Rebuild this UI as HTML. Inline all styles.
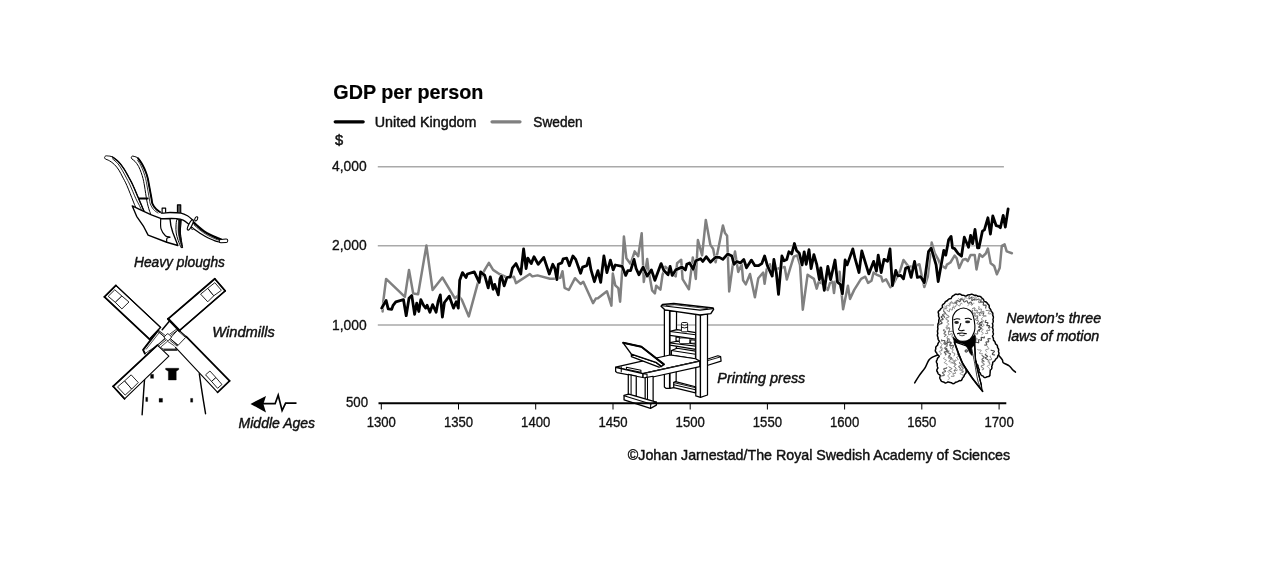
<!DOCTYPE html>
<html><head><meta charset="utf-8"><title>GDP per person</title>
<style>
html,body{margin:0;padding:0;background:#fff;}
body{width:1280px;height:576px;overflow:hidden;font-family:"Liberation Sans",sans-serif;}
svg{display:block;font-family:"Liberation Sans",sans-serif;will-change:transform;opacity:0.999;}
</style></head><body>
<svg width="1280" height="576" viewBox="0 0 1280 576">
<rect width="1280" height="576" fill="#fff"/>
<g stroke="#a9a9a9" stroke-width="1.6" fill="none">
<line x1="377.8" y1="166.7" x2="1003.9" y2="166.7"/>
<line x1="377.8" y1="245.8" x2="1003.9" y2="245.8"/>
<line x1="377.8" y1="325" x2="934" y2="325"/>
</g>
<polyline points="382.6,311.5 383.3,301.1 386.1,278.9 404.9,296.9 409.0,269.9 413.2,293.5 418.1,294.2 426.4,245.6 432.6,290.0 442.4,277.5 454.9,298.3 458.3,295.6 461.8,299.7 468.8,316.4 477.8,283.1 484.7,269.9 488.9,262.9 493.1,269.9 499.3,274.0 506.9,277.5 513.9,276.8 516.0,283.1 529.9,274.0 531.9,276.1 532.6,276.4 537.5,275.4 550.0,278.8 553.5,278.8 560.4,277.8 562.5,271.2 564.6,287.8 568.8,290.0 575.0,278.2 580.6,284.0 583.3,281.7 593.1,303.2 595.8,298.6 597.9,298.3 606.9,291.2 611.4,305.6 612.8,273.6 615.3,285.4 618.3,288.2 620.1,301.7 622.2,270.6 623.9,236.5 626.4,258.3 630.6,263.9 634.7,251.4 638.2,256.2 641.7,233.3 643.8,281.9 647.2,259.0 648.6,270.8 652.1,290.3 654.9,293.3 656.2,285.8 660.4,289.6 662.5,275.0 665.3,266.7 675.7,276.4 677.1,263.2 681.2,259.7 682.6,279.2 688.9,289.3 692.8,257.4 695.8,278.9 697.9,240.0 702.1,255.3 705.8,219.9 710.4,244.9 713.2,249.0 715.6,262.2 722.9,225.4 725.0,233.1 727.1,235.8 729.2,291.4 732.6,266.4 735.0,251.4 738.2,271.9 741.7,264.3 743.1,280.3 745.8,284.4 750.0,274.0 754.9,297.2 758.3,278.2 763.2,272.6 764.6,283.8 766.7,269.2 770.1,264.3 772.2,270.6 780.6,267.8 784.7,267.1 786.8,279.6 790.3,267.8 793.8,256.7 797.2,255.3 800.0,265.0 802.8,309.7 807.6,274.7 813.9,278.9 816.7,288.6 818.8,281.7 823.6,284.4 827.8,290.0 829.9,283.1 832.6,281.7 834.0,293.1 835.4,281.5 838.9,282.2 839.6,271.8 843.1,309.3 847.9,285.7 850.0,298.9 854.2,289.9 861.1,278.8 865.3,276.7 868.1,282.9 871.5,280.8 873.6,272.5 876.4,274.6 881.2,276.7 882.6,281.5 886.1,279.4 890.3,287.1 892.4,285.7 900.0,271.1 903.5,260.0 908.3,266.2 913.9,266.9 919.4,264.2 921.5,274.6 924.3,287.1 927.8,276.7 931.7,242.6 934.7,253.1 938.2,259.3 940.3,264.9 945.6,268.1 946.9,264.6 950.4,262.5 954.6,255.6 956.7,258.3 959.2,268.1 962.9,259.7 965.7,259.0 967.8,261.1 970.6,254.9 974.7,254.9 976.5,269.4 979.6,254.2 982.4,256.9 985.8,253.5 987.9,248.6 990.7,263.2 994.2,266.0 996.9,274.3 999.7,268.1 1001.8,245.8 1004.6,244.4 1006.7,251.4 1011.9,253.2" fill="none" stroke="#808080" stroke-width="2.5" stroke-linejoin="round" stroke-linecap="round"/>
<polyline points="381.7,308.1 383.3,305.3 386.1,300.4 388.2,308.8 391.7,309.4 393.1,305.3 395.8,301.8 403.5,299.7 406.2,315.7 409.0,298.3 411.8,295.6 414.6,314.3 416.7,303.2 418.8,311.5 420.8,299.7 423.6,305.3 425.7,308.1 427.1,305.3 429.9,312.2 432.6,304.6 436.1,312.2 438.2,301.1 440.3,294.9 442.4,317.1 444.4,302.5 449.3,296.2 453.5,308.1 456.2,301.8 458.3,308.1 459.7,280.3 462.5,272.6 466.0,277.5 467.4,274.0 474.3,271.9 479.2,282.4 480.6,271.9 484.7,275.4 488.2,287.9 490.3,276.8 493.1,289.3 494.7,284.4 498.3,294.9 500.0,278.9 501.4,276.1 504.2,285.8 506.9,277.5 510.4,276.8 512.5,267.8 516.0,263.6 520.8,274.0 523.6,249.0 526.1,268.5 527.8,258.1 531.2,263.6 534.0,256.7 538.2,264.3 543.8,257.4 549.3,274.0 552.8,264.3 554.9,268.5 556.9,279.6 558.3,264.3 561.8,262.9 563.2,258.8 566.7,258.1 569.4,265.7 572.9,256.0 575.7,259.4 580.6,273.3 582.6,267.1 586.8,265.7 588.9,258.1 591.0,269.9 594.4,281.7 597.9,270.6 600.7,282.4 603.9,256.0 606.9,272.6 610.4,260.1 613.2,269.9 615.3,265.0 622.2,266.4 625.7,275.4 627.8,270.6 630.6,270.6 634.0,259.4 636.1,268.5 638.9,274.7 643.1,267.1 647.2,276.1 651.4,269.9 654.9,280.3 661.1,263.6 663.9,270.6 668.1,274.7 670.1,266.4 672.2,275.4 675.7,269.9 681.9,267.1 685.4,269.9 686.8,264.3 689.6,262.9 693.1,269.2 695.8,260.8 700.7,258.8 702.8,261.5 706.2,256.7 710.4,262.2 715.3,257.4 719.4,257.4 722.9,259.4 727.8,253.9 731.9,256.0 734.0,264.3 736.8,261.5 740.3,262.9 743.8,259.4 746.5,267.8 751.4,260.1 754.9,265.7 758.3,265.7 761.8,263.6 764.6,256.0 767.4,265.7 772.2,276.1 773.9,259.4 776.4,273.3 778.5,294.4 781.9,256.0 784.0,260.8 786.8,259.4 788.9,251.8 791.7,253.9 794.4,243.5 796.5,250.4 799.3,253.2 802.1,265.0 804.2,251.8 806.2,264.3 809.0,249.7 811.1,268.5 813.9,254.6 816.7,264.3 819.4,279.6 820.8,267.8 824.3,290.3 827.8,266.4 830.6,279.6 835.0,260.0 837.5,282.2 840.3,284.3 842.4,294.0 845.1,260.0 847.2,264.9 852.8,248.9 854.9,257.9 859.0,272.5 861.8,251.0 868.8,273.9 873.6,261.4 876.4,271.1 878.2,255.1 881.2,272.5 884.0,259.3 887.5,261.4 890.0,248.9 892.4,285.7 895.8,270.4 897.9,276.0 900.7,275.3 903.5,278.8 905.6,268.3 908.3,266.9 911.1,277.4 914.6,261.4 917.4,277.4 920.8,276.7 924.3,282.9 928.5,251.7 931.2,248.2 936.1,264.9 938.2,281.5 943.8,250.3 945.8,255.1 948.6,239.9 951.1,236.4 952.5,247.9 954.6,248.6 958.1,253.5 961.5,256.2 964.3,237.2 968.5,247.2 970.6,235.4 972.6,243.8 975.0,229.4 977.5,247.9 978.9,247.9 982.4,231.2 984.4,229.9 987.9,217.8 990.4,234.0 992.8,216.0 996.2,225.7 999.0,226.4 1000.4,227.8 1003.2,215.3 1005.3,227.1 1008.1,209.0" fill="none" stroke="#fff" stroke-width="3.6" stroke-linejoin="round" stroke-linecap="round" opacity="0.85"/>
<polyline points="381.7,308.1 383.3,305.3 386.1,300.4 388.2,308.8 391.7,309.4 393.1,305.3 395.8,301.8 403.5,299.7 406.2,315.7 409.0,298.3 411.8,295.6 414.6,314.3 416.7,303.2 418.8,311.5 420.8,299.7 423.6,305.3 425.7,308.1 427.1,305.3 429.9,312.2 432.6,304.6 436.1,312.2 438.2,301.1 440.3,294.9 442.4,317.1 444.4,302.5 449.3,296.2 453.5,308.1 456.2,301.8 458.3,308.1 459.7,280.3 462.5,272.6 466.0,277.5 467.4,274.0 474.3,271.9 479.2,282.4 480.6,271.9 484.7,275.4 488.2,287.9 490.3,276.8 493.1,289.3 494.7,284.4 498.3,294.9 500.0,278.9 501.4,276.1 504.2,285.8 506.9,277.5 510.4,276.8 512.5,267.8 516.0,263.6 520.8,274.0 523.6,249.0 526.1,268.5 527.8,258.1 531.2,263.6 534.0,256.7 538.2,264.3 543.8,257.4 549.3,274.0 552.8,264.3 554.9,268.5 556.9,279.6 558.3,264.3 561.8,262.9 563.2,258.8 566.7,258.1 569.4,265.7 572.9,256.0 575.7,259.4 580.6,273.3 582.6,267.1 586.8,265.7 588.9,258.1 591.0,269.9 594.4,281.7 597.9,270.6 600.7,282.4 603.9,256.0 606.9,272.6 610.4,260.1 613.2,269.9 615.3,265.0 622.2,266.4 625.7,275.4 627.8,270.6 630.6,270.6 634.0,259.4 636.1,268.5 638.9,274.7 643.1,267.1 647.2,276.1 651.4,269.9 654.9,280.3 661.1,263.6 663.9,270.6 668.1,274.7 670.1,266.4 672.2,275.4 675.7,269.9 681.9,267.1 685.4,269.9 686.8,264.3 689.6,262.9 693.1,269.2 695.8,260.8 700.7,258.8 702.8,261.5 706.2,256.7 710.4,262.2 715.3,257.4 719.4,257.4 722.9,259.4 727.8,253.9 731.9,256.0 734.0,264.3 736.8,261.5 740.3,262.9 743.8,259.4 746.5,267.8 751.4,260.1 754.9,265.7 758.3,265.7 761.8,263.6 764.6,256.0 767.4,265.7 772.2,276.1 773.9,259.4 776.4,273.3 778.5,294.4 781.9,256.0 784.0,260.8 786.8,259.4 788.9,251.8 791.7,253.9 794.4,243.5 796.5,250.4 799.3,253.2 802.1,265.0 804.2,251.8 806.2,264.3 809.0,249.7 811.1,268.5 813.9,254.6 816.7,264.3 819.4,279.6 820.8,267.8 824.3,290.3 827.8,266.4 830.6,279.6 835.0,260.0 837.5,282.2 840.3,284.3 842.4,294.0 845.1,260.0 847.2,264.9 852.8,248.9 854.9,257.9 859.0,272.5 861.8,251.0 868.8,273.9 873.6,261.4 876.4,271.1 878.2,255.1 881.2,272.5 884.0,259.3 887.5,261.4 890.0,248.9 892.4,285.7 895.8,270.4 897.9,276.0 900.7,275.3 903.5,278.8 905.6,268.3 908.3,266.9 911.1,277.4 914.6,261.4 917.4,277.4 920.8,276.7 924.3,282.9 928.5,251.7 931.2,248.2 936.1,264.9 938.2,281.5 943.8,250.3 945.8,255.1 948.6,239.9 951.1,236.4 952.5,247.9 954.6,248.6 958.1,253.5 961.5,256.2 964.3,237.2 968.5,247.2 970.6,235.4 972.6,243.8 975.0,229.4 977.5,247.9 978.9,247.9 982.4,231.2 984.4,229.9 987.9,217.8 990.4,234.0 992.8,216.0 996.2,225.7 999.0,226.4 1000.4,227.8 1003.2,215.3 1005.3,227.1 1008.1,209.0" fill="none" stroke="#000" stroke-width="2.8" stroke-linejoin="round" stroke-linecap="round"/>
<g id="plough">
<path d="M138,212.5 C137.50,211.38 135.82,207.67 135,205.75 C134.18,203.83 134.45,204.38 133.1,201 C131.75,197.62 128.65,189.50 126.9,185.5 C125.15,181.50 123.93,179.57 122.6,177 C121.27,174.43 120.27,172.18 118.9,170.1 C117.53,168.02 115.98,166.06 114.4,164.5 C112.82,162.94 110.92,161.68 109.4,160.75 C107.88,159.82 106.10,159.49 105.3,158.9 C104.50,158.31 104.55,157.68 104.6,157.2 C104.65,156.72 105.12,156.22 105.6,156.0 C106.08,155.78 106.35,155.73 107.5,155.9 C108.65,156.07 110.62,155.98 112.5,157 C114.38,158.02 116.83,160.02 118.75,162 C120.67,163.98 122.36,166.40 124,168.9 C125.64,171.40 127.13,174.32 128.6,177 C130.07,179.68 131.17,181.48 132.8,185 C134.43,188.52 136.52,193.70 138.4,198.1 C140.28,202.50 143.15,209.18 144.1,211.4Z" fill="#fff" stroke="none"/>
<path d="M138,212.5 C137.50,211.38 135.82,207.67 135,205.75 C134.18,203.83 134.45,204.38 133.1,201 C131.75,197.62 128.65,189.50 126.9,185.5 C125.15,181.50 123.93,179.57 122.6,177 C121.27,174.43 120.27,172.18 118.9,170.1 C117.53,168.02 115.98,166.06 114.4,164.5 C112.82,162.94 110.92,161.68 109.4,160.75 C107.88,159.82 106.10,159.49 105.3,158.9 C104.50,158.31 104.55,157.68 104.6,157.2 C104.65,156.72 105.12,156.22 105.6,156.0 C106.08,155.78 106.35,155.73 107.5,155.9 C108.65,156.07 110.62,155.98 112.5,157 C114.38,158.02 116.83,160.02 118.75,162 C120.67,163.98 122.36,166.40 124,168.9 C125.64,171.40 127.13,174.32 128.6,177 C130.07,179.68 131.17,181.48 132.8,185 C134.43,188.52 136.52,193.70 138.4,198.1 C140.28,202.50 143.15,209.18 144.1,211.4" fill="none" stroke="#000" stroke-width="1.0" stroke-linejoin="round"/>
<path d="M112.5,157 C113.54,157.83 116.83,160.02 118.75,162 C120.67,163.98 122.36,166.40 124,168.9 C125.64,171.40 127.13,174.32 128.6,177 C130.07,179.68 131.17,181.48 132.8,185 C134.43,188.52 136.52,193.70 138.4,198.1 C140.28,202.50 143.15,209.18 144.1,211.4" fill="none" stroke="#000" stroke-width="1.35" stroke-linejoin="round" stroke-linecap="round" />
<path d="M112.5,158.8 C113.43,159.65 116.43,161.91 118.1,163.9 C119.77,165.89 121.03,168.25 122.5,170.75 C123.97,173.25 125.65,176.53 126.9,178.9 C128.15,181.28 128.50,181.69 130,185 C131.50,188.31 134.33,195.33 135.9,198.75 C137.47,202.17 138.47,203.62 139.4,205.5 C140.33,207.38 141.15,209.25 141.5,210" fill="none" stroke="#000" stroke-width="0.85" stroke-linejoin="round" stroke-linecap="round" />
<polygon points="162.12,208.12 165.62,208.12 165.62,213.59 162.12,213.59" fill="#fff" stroke="#000" stroke-width="1.17" stroke-linejoin="round" />
<polygon points="177.44,204.84 180.72,204.84 180.72,213.59 177.44,213.59" fill="#555" stroke="#000" stroke-width="1.17" stroke-linejoin="round" />
<path d="M192.5,221.3 C193.25,222.00 195.12,223.87 197,225.5 C198.88,227.13 201.58,229.55 203.75,231.1 C205.92,232.65 207.92,233.72 210,234.8 C212.08,235.88 214.33,236.78 216.25,237.6 C218.17,238.42 220.62,239.35 221.5,239.7 L220,242.3 C219.17,242.05 216.67,241.38 215,240.8 C213.33,240.22 211.67,239.57 210,238.8 C208.33,238.03 206.67,237.13 205,236.2 C203.33,235.27 201.67,234.27 200,233.2 C198.33,232.13 196.58,230.97 195,229.8 C193.42,228.63 191.25,226.80 190.5,226.2Z" fill="#fff" stroke="none"/>
<path d="M190.5,226.2 C191.25,226.80 193.42,228.63 195,229.8 C196.58,230.97 198.33,232.13 200,233.2 C201.67,234.27 203.33,235.27 205,236.2 C206.67,237.13 208.33,238.03 210,238.8 C211.67,239.57 213.33,240.22 215,240.8 C216.67,241.38 219.17,242.05 220,242.3" fill="none" stroke="#000" stroke-width="1.25" stroke-linejoin="round" stroke-linecap="round" />
<path d="M192.5,221.3 C193.25,222.00 195.12,223.87 197,225.5 C198.88,227.13 201.58,229.55 203.75,231.1 C205.92,232.65 207.92,233.72 210,234.8 C212.08,235.88 214.33,236.78 216.25,237.6 C218.17,238.42 220.62,239.35 221.5,239.7" fill="none" stroke="#000" stroke-width="2.3" stroke-linejoin="round" stroke-linecap="round" />
<path d="M194,225 C195.00,225.87 197.83,228.53 200,230.2 C202.17,231.87 204.67,233.63 207,235 C209.33,236.37 211.92,237.47 214,238.4 C216.08,239.33 218.58,240.23 219.5,240.6" fill="none" stroke="#000" stroke-width="0.7" stroke-linejoin="round" stroke-linecap="round" />
<rect x="219.2" y="239.3" width="8.6" height="3.3" rx="1.65" transform="rotate(-4 223 241)" fill="#fff" stroke="#000" stroke-width="1.0"/>
<path d="M154.69,210.31 C155.78,210.77 158.70,212.69 161.25,213.05 C163.80,213.42 166.72,212.50 170.0,212.5 C173.28,212.50 178.02,212.50 180.94,213.05 C183.86,213.60 185.46,214.56 187.5,215.78 C189.54,217.00 192.24,219.61 193.19,220.37 L189.47,224.75 C188.41,223.99 185.27,221.18 183.12,220.16 C180.97,219.14 180.21,218.88 176.56,218.62 C172.91,218.36 165.44,219.24 161.25,218.62 C157.06,218.00 153.05,215.53 151.41,214.91Z" fill="#fff" stroke="none"/>
<path d="M154.69,210.31 C155.78,210.77 158.70,212.69 161.25,213.05 C163.80,213.42 166.72,212.50 170.0,212.5 C173.28,212.50 178.02,212.50 180.94,213.05 C183.86,213.60 185.46,214.56 187.5,215.78 C189.54,217.00 192.24,219.61 193.19,220.37" fill="none" stroke="#000" stroke-width="1.3" stroke-linejoin="round" stroke-linecap="round" />
<path d="M189.47,224.75 C188.41,223.99 185.27,221.18 183.12,220.16 C180.97,219.14 180.21,218.88 176.56,218.62 C172.91,218.36 163.80,218.62 161.25,218.62" fill="none" stroke="#000" stroke-width="1.3" stroke-linejoin="round" stroke-linecap="round" />
<path d="M151,214.5 C150.70,213.75 149.88,212.25 149.2,210 C148.52,207.75 147.68,205.00 146.9,201 C146.12,197.00 145.15,189.75 144.5,186 C143.85,182.25 143.55,180.73 143,178.5 C142.45,176.27 141.93,174.62 141.2,172.6 C140.47,170.58 139.63,168.27 138.6,166.4 C137.57,164.53 136.12,162.65 135,161.4 C133.88,160.15 132.52,159.57 131.9,158.9 C131.28,158.23 131.25,157.85 131.3,157.4 C131.35,156.95 131.73,156.37 132.2,156.2 C132.67,156.03 133.12,156.06 134.1,156.4 C135.08,156.74 136.73,156.90 138.1,158.25 C139.47,159.60 141.02,162.21 142.3,164.5 C143.58,166.79 144.88,169.67 145.8,172 C146.72,174.33 147.27,176.33 147.8,178.5 C148.33,180.67 148.40,181.75 149,185 C149.60,188.25 150.82,194.85 151.4,198 C151.98,201.15 151.75,202.08 152.5,203.9 C153.25,205.72 154.65,207.55 155.9,208.9 C157.15,210.25 159.32,211.48 160,212 L162,216 L152,216 Z" fill="#fff" stroke="none"/>
<path d="M151,214.5 C150.70,213.75 149.88,212.25 149.2,210 C148.52,207.75 147.68,205.00 146.9,201 C146.12,197.00 145.15,189.75 144.5,186 C143.85,182.25 143.55,180.73 143,178.5 C142.45,176.27 141.93,174.62 141.2,172.6 C140.47,170.58 139.63,168.27 138.6,166.4 C137.57,164.53 136.12,162.65 135,161.4 C133.88,160.15 132.52,159.57 131.9,158.9 C131.28,158.23 131.25,157.85 131.3,157.4 C131.35,156.95 131.73,156.37 132.2,156.2 C132.67,156.03 133.12,156.06 134.1,156.4 C135.08,156.74 136.73,156.90 138.1,158.25 C139.47,159.60 141.02,162.21 142.3,164.5 C143.58,166.79 144.88,169.67 145.8,172 C146.72,174.33 147.27,176.33 147.8,178.5 C148.33,180.67 148.40,181.75 149,185 C149.60,188.25 150.82,194.85 151.4,198 C151.98,201.15 151.75,202.08 152.5,203.9 C153.25,205.72 154.65,207.55 155.9,208.9 C157.15,210.25 159.32,211.48 160,212" fill="none" stroke="#000" stroke-width="1.0" stroke-linejoin="round"/>
<path d="M138.1,158.25 C138.80,159.29 141.02,162.21 142.3,164.5 C143.58,166.79 144.88,169.67 145.8,172 C146.72,174.33 147.27,176.33 147.8,178.5 C148.33,180.67 148.40,181.75 149,185 C149.60,188.25 150.82,194.85 151.4,198 C151.98,201.15 151.75,202.08 152.5,203.9 C153.25,205.72 154.65,207.55 155.9,208.9 C157.15,210.25 159.32,211.48 160,212" fill="none" stroke="#000" stroke-width="1.9" stroke-linejoin="round" stroke-linecap="round" />
<path d="M137.5,160.2 C138.02,161.00 139.58,163.03 140.6,165 C141.62,166.97 142.77,169.75 143.6,172 C144.43,174.25 145.05,176.33 145.6,178.5 C146.15,180.67 146.30,181.75 146.9,185 C147.50,188.25 148.63,194.83 149.2,198 C149.77,201.17 149.58,202.08 150.3,204 C151.02,205.92 152.22,208.00 153.5,209.5 C154.78,211.00 157.25,212.42 158,213" fill="none" stroke="#000" stroke-width="0.8" stroke-linejoin="round" stroke-linecap="round" />
<polyline points="139.2,198.4 147.6,198.4" fill="none" stroke="#000" stroke-width="2.0" stroke-linejoin="round" stroke-linecap="round" />
<polygon points="132.27,205.94 141.56,210.31 151.41,214.91 161.25,218.73 170.0,218.73 170.87,225.62 172.73,232.19 177.87,245.53 166.72,242.25 148.12,235.14 143.75,226.72 136.64,216.33" fill="#fff" stroke="#000" stroke-width="1.37" stroke-linejoin="round" />
<path d="M160.7,219.06 C160.75,220.70 160.21,226.09 161.03,228.91 C161.85,231.73 164.12,234.64 165.62,236.01 C167.12,237.38 169.78,236.71 170.0,237.11 C170.22,237.51 167.49,237.60 166.94,238.42 C166.39,239.24 166.76,241.43 166.72,242.03" fill="none" stroke="#000" stroke-width="1.17" stroke-linejoin="round" stroke-linecap="round" />
<path d="M176.6,219.6 C176.50,220.67 176.07,223.77 176.0,226 C175.93,228.23 175.83,230.58 176.2,233 C176.57,235.42 177.40,238.07 178.2,240.5 C179.00,242.93 180.53,246.42 181.0,247.6 L182.6,247.6 C182.40,246.42 181.77,242.93 181.4,240.5 C181.03,238.07 180.53,235.25 180.4,233 C180.27,230.75 180.47,229.20 180.6,227 C180.73,224.80 181.10,221.00 181.2,219.8Z" fill="#fff" stroke="#000" stroke-width="1.0" stroke-linejoin="round"/>
<path d="M178.6,220 C178.53,221.17 178.25,224.83 178.2,227 C178.15,229.17 178.03,230.75 178.3,233 C178.57,235.25 179.22,238.17 179.8,240.5 C180.38,242.83 181.47,245.92 181.8,247 L182.6,247.6 C182.40,246.42 181.77,242.93 181.4,240.5 C181.03,238.07 180.53,235.25 180.4,233 C180.27,230.75 180.47,229.20 180.6,227 C180.73,224.80 181.10,221.00 181.2,219.8Z" fill="#111" stroke="#000" stroke-width="0.6" stroke-linejoin="round"/>
<ellipse cx="196.2" cy="218.8" rx="1.3" ry="2.2" transform="rotate(28 196.2 218.8)" fill="#fff" stroke="#000" stroke-width="1.1"/>
<ellipse cx="190.3" cy="225" rx="1.6" ry="5.6" transform="rotate(27 190.3 225)" fill="#fff" stroke="#000" stroke-width="1.2"/>
<circle cx="192.3" cy="228.6" r="0.9" fill="#fff" stroke="#000" stroke-width="0.8"/>
</g>
<g id="windmill">
<path d="M144.62,378.12 C144.44,380.67 143.95,387.33 143.53,393.44 C143.11,399.55 142.35,411.21 142.11,414.76" fill="none" stroke="#000" stroke-width="1.43" stroke-linejoin="round" stroke-linecap="round" />
<path d="M199.31,373.75 C199.80,377.03 201.22,386.79 202.26,393.44 C203.30,400.09 205.00,410.30 205.55,413.67" fill="none" stroke="#000" stroke-width="1.43" stroke-linejoin="round" stroke-linecap="round" />
<polygon points="165.62,368.28 178.75,368.28 178.75,369.59 176.23,371.34 176.23,379.98 168.36,379.98 168.36,371.34 165.62,369.59" fill="#000" stroke="#000" stroke-width="0.39" stroke-linejoin="round" />
<polygon points="150.53,374.3 153.59,374.3 153.59,378.34 150.53,378.34" fill="#000" stroke="#000" stroke-width="0.26" stroke-linejoin="round" />
<polygon points="145.72,397.27 147.69,397.27 147.69,401.53 145.72,401.53" fill="#000" stroke="#000" stroke-width="0.26" stroke-linejoin="round" />
<polygon points="159.06,398.36 162.56,398.36 162.56,402.19 159.06,402.19" fill="#000" stroke="#000" stroke-width="0.26" stroke-linejoin="round" />
<polygon points="190.56,398.36 192.75,398.36 192.75,402.19 190.56,402.19" fill="#000" stroke="#000" stroke-width="0.26" stroke-linejoin="round" />
<polyline points="144.5,350.2 152.5,350.2" fill="none" stroke="#666" stroke-width="1.6" stroke-linejoin="round" stroke-linecap="round" />
<rect x="163.5" y="349" width="13.8" height="2.0" fill="#444"/>
<polygon points="160.6,347.2 167.5,341.3 175,346.25 176.25,349 163.1,349" fill="#fff" stroke="#000" stroke-width="0.7" stroke-linejoin="round" />
<polygon points="158.1,330.3 143.1,349.8 144.9,353.6 157.4,345.2 165,338" fill="#fff" stroke="#000" stroke-width="0.7" stroke-linejoin="round" />
<polyline points="158.1,330.3 143.1,349.8 144.9,353.6" fill="none" stroke="#000" stroke-width="1.9" stroke-linejoin="round" stroke-linecap="round" />
<polyline points="159.4,332.4 146.2,349.2" fill="none" stroke="#000" stroke-width="0.7" stroke-linejoin="round" stroke-linecap="round" />
<polygon points="179.4,330.6 229.6,380.9 217.6,392.3 175.5,347.4 170,338.4 177.5,330.3" fill="#fff" stroke="none"/>
<polyline points="179.4,330.6 186.25,336.6" fill="none" stroke="#000" stroke-width="1.2" stroke-linejoin="round" stroke-linecap="round" />
<polyline points="186.25,336.6 229.6,380.9" fill="none" stroke="#000" stroke-width="1.8" stroke-linejoin="round" stroke-linecap="round" />
<polyline points="229.6,380.9 217.6,392.3" fill="none" stroke="#000" stroke-width="1.7" stroke-linejoin="round" stroke-linecap="round" />
<polyline points="217.6,392.3 175.5,347.4" fill="none" stroke="#000" stroke-width="1.1" stroke-linejoin="round" stroke-linecap="round" />
<polygon points="205.55,374.84 209.92,371.02 215.94,377.58 211.56,381.41" fill="#fff" stroke="#000" stroke-width="0.85" stroke-linejoin="round" />
<polygon points="211.56,381.41 215.94,377.58 221.95,384.47 217.58,388.3" fill="#fff" stroke="#000" stroke-width="0.85" stroke-linejoin="round" />
<polygon points="177.5,330.3 185.6,337.5 177.8,345.6 170,338.4" fill="#fff" stroke="#000" stroke-width="0.85" stroke-linejoin="round" />
<polygon points="115.9,285.4 104.4,296.9 149.4,339.1 160.6,327.4" fill="#fff" stroke="#000" stroke-width="1.1" stroke-linejoin="round" />
<polyline points="104.4,296.9 149.4,339.1" fill="none" stroke="#000" stroke-width="1.8" stroke-linejoin="round" stroke-linecap="round" />
<polyline points="115.9,285.4 104.4,296.9" fill="none" stroke="#000" stroke-width="1.7" stroke-linejoin="round" stroke-linecap="round" />
<polyline points="149.4,339.1 160.6,327.4" fill="none" stroke="#000" stroke-width="1.3" stroke-linejoin="round" stroke-linecap="round" />
<polyline points="160.6,327.4 115.9,285.4" fill="none" stroke="#000" stroke-width="1.3" stroke-linejoin="round" stroke-linecap="round" />
<polygon points="108.2,296.33 114.77,289.77 121.87,296.0 115.31,302.34" fill="#fff" stroke="#000" stroke-width="0.85" stroke-linejoin="round" />
<polygon points="115.31,302.34 121.87,296.0 128.98,302.02 121.87,308.91" fill="#fff" stroke="#000" stroke-width="0.85" stroke-linejoin="round" />
<polygon points="169.1,321.6 176.6,328.4 170,334 162.2,329.7" fill="#fff" stroke="none"/>
<polyline points="169.1,321.6 162.2,329.7" fill="none" stroke="#000" stroke-width="1.5" stroke-linejoin="round" stroke-linecap="round" />
<polygon points="214.8,278.8 225.2,290.9 179.4,330.6 168.1,318.9" fill="#fff" stroke="#000" stroke-width="1.1" stroke-linejoin="round" />
<polyline points="168.1,318.9 214.8,278.8" fill="none" stroke="#000" stroke-width="1.8" stroke-linejoin="round" stroke-linecap="round" />
<polyline points="214.8,278.8 225.2,290.9" fill="none" stroke="#000" stroke-width="1.7" stroke-linejoin="round" stroke-linecap="round" />
<polyline points="225.2,290.9 179.4,330.6" fill="none" stroke="#000" stroke-width="1.5" stroke-linejoin="round" stroke-linecap="round" />
<polyline points="179.4,330.6 168.1,318.9" fill="none" stroke="#000" stroke-width="2.3" stroke-linejoin="round" stroke-linecap="round" />
<polygon points="200.62,294.14 207.73,288.34 213.75,295.78 207.73,301.8" fill="#fff" stroke="#000" stroke-width="0.85" stroke-linejoin="round" />
<polygon points="207.73,288.34 214.84,282.66 221.4,290.31 213.75,295.78" fill="#fff" stroke="#000" stroke-width="0.85" stroke-linejoin="round" />
<polygon points="157.4,345.2 168.9,356.2 124.6,398.9 113.1,386.3" fill="#fff" stroke="#000" stroke-width="1.1" stroke-linejoin="round" />
<polyline points="113.1,386.3 157.4,345.2" fill="none" stroke="#000" stroke-width="1.8" stroke-linejoin="round" stroke-linecap="round" />
<polyline points="124.6,398.9 113.1,386.3" fill="none" stroke="#000" stroke-width="1.7" stroke-linejoin="round" stroke-linecap="round" />
<polygon points="117.5,386.87 124.61,380.86 131.72,389.06 125.16,395.08" fill="#fff" stroke="#000" stroke-width="0.85" stroke-linejoin="round" />
<polygon points="124.61,380.86 131.17,374.84 138.28,382.5 131.72,389.06" fill="#fff" stroke="#000" stroke-width="0.85" stroke-linejoin="round" />
<polyline points="157.33526678356574,331.1886620741501 164.93526678356574,337.1886620741501" fill="none" stroke="#000" stroke-width="0.8" stroke-linejoin="round" stroke-linecap="round" />
<polyline points="158.26473321643428,330.01133792584994 165.86473321643427,336.01133792584994" fill="none" stroke="#000" stroke-width="0.8" stroke-linejoin="round" stroke-linecap="round" />
<polyline points="170.84429283785815,335.2042382594871 177.64429283785813,330.2042382594871" fill="none" stroke="#000" stroke-width="0.8" stroke-linejoin="round" stroke-linecap="round" />
<polyline points="169.95570716214186,333.99576174051293 176.75570716214185,328.99576174051293" fill="none" stroke="#000" stroke-width="0.8" stroke-linejoin="round" stroke-linecap="round" />
<polyline points="169.9314787143342,340.3856516070823 176.9314787143342,345.9856516070823" fill="none" stroke="#000" stroke-width="0.8" stroke-linejoin="round" stroke-linecap="round" />
<polyline points="170.86852128566582,339.2143483929177 177.86852128566582,344.8143483929177" fill="none" stroke="#000" stroke-width="0.8" stroke-linejoin="round" stroke-linecap="round" />
<polyline points="164.73147871433417,339.2143483929177 157.73147871433417,344.8143483929177" fill="none" stroke="#000" stroke-width="0.8" stroke-linejoin="round" stroke-linecap="round" />
<polyline points="165.6685212856658,340.3856516070823 158.6685212856658,345.9856516070823" fill="none" stroke="#000" stroke-width="0.8" stroke-linejoin="round" stroke-linecap="round" />
<rect x="165.0" y="334.4" width="5.6" height="5.6" rx="1.2" transform="rotate(45 167.8 337.2)" fill="#fff" stroke="#000" stroke-width="0.8"/>
</g>
<g id="press">
<polygon points="707.03,359.22 717.81,355.75 720.62,356.69 721.09,361.09 707.03,365.5" fill="#fff" stroke="#000" stroke-width="1.23" stroke-linejoin="round" />
<polyline points="707.03,360.81 720.62,356.87" fill="none" stroke="#000" stroke-width="0.91" stroke-linejoin="round" stroke-linecap="round" />
<polygon points="664.37,309.84 669.53,310.5 669.53,388.44 666.25,388.44 664.37,387.03" fill="#fff" stroke="#000" stroke-width="1.23" stroke-linejoin="round" />
<polygon points="670.0,310.78 676.56,311.72 676.09,387.03 670.0,388.44" fill="#fff" stroke="#000" stroke-width="1.23" stroke-linejoin="round" />
<polygon points="671.4,350.5 677.03,348.25 695.5,351.06 695.5,358.75 671.4,355.0" fill="#fff" stroke="#000" stroke-width="1.23" stroke-linejoin="round" />
<polyline points="671.4,350.5 695.5,354.25" fill="none" stroke="#000" stroke-width="1.04" stroke-linejoin="round" stroke-linecap="round" />
<polygon points="670.0,342.65 677.03,341.25 695.78,344.25 695.5,349.4 670.0,345.19" fill="#fff" stroke="#000" stroke-width="1.23" stroke-linejoin="round" />
<polyline points="670.0,342.94 695.5,346.12" fill="none" stroke="#000" stroke-width="1.04" stroke-linejoin="round" stroke-linecap="round" />
<polygon points="676.09,337.03 679.37,337.31 679.37,341.25 676.09,340.87" fill="#fff" stroke="#000" stroke-width="1.04" stroke-linejoin="round" />
<polygon points="690.62,339.84 695.31,340.31 695.31,343.31 690.62,342.94" fill="#fff" stroke="#000" stroke-width="1.04" stroke-linejoin="round" />
<rect x="679.37" y="337.97" width="10.32" height="5.62" rx="1.5" fill="#fff" stroke="#000" stroke-width="0.8"/>
<polygon points="670.0,331.41 677.03,329.62 695.78,332.62 695.5,339.09 670.0,335.34" fill="#fff" stroke="#000" stroke-width="1.23" stroke-linejoin="round" />
<polyline points="670.0,331.59 695.5,334.69" fill="none" stroke="#000" stroke-width="1.04" stroke-linejoin="round" stroke-linecap="round" />
<rect x="681.44" y="322.5" width="6.18" height="9.37" rx="1.2" fill="#fff" stroke="#000" stroke-width="0.9"/>
<polyline points="681.44,324.56 684.53,325.31 687.62,324.56" fill="none" stroke="#000" stroke-width="0.91" stroke-linejoin="round" stroke-linecap="round" />
<polyline points="681.44,327.19 684.53,327.94 687.62,327.19" fill="none" stroke="#000" stroke-width="0.91" stroke-linejoin="round" stroke-linecap="round" />
<line x1="677" y1="325" x2="681.2" y2="325" stroke="#c4c4c4" stroke-width="1.3"/><line x1="688" y1="325" x2="695.4" y2="325" stroke="#c4c4c4" stroke-width="1.3"/>
<polygon points="695.78,313.87 700.47,314.81 700.47,397.34 695.78,395.94" fill="#fff" stroke="#000" stroke-width="1.23" stroke-linejoin="round" />
<polygon points="673.75,382.34 675.62,381.69 695.5,386.75 695.5,392.84 673.75,387.69" fill="#fff" stroke="#000" stroke-width="1.23" stroke-linejoin="round" />
<polyline points="673.75,384.69 695.5,389.84" fill="none" stroke="#000" stroke-width="1.04" stroke-linejoin="round" stroke-linecap="round" />
<polyline points="673.75,382.62 695.5,387.69" fill="none" stroke="#000" stroke-width="0.91" stroke-linejoin="round" stroke-linecap="round" />
<polygon points="615.62,367.19 640.94,361.37 670.0,355.0 695.5,358.75 699.81,361.09 642.81,373.56" fill="#fff" stroke="#000" stroke-width="1.23" stroke-linejoin="round" />
<polygon points="642.81,373.56 699.81,361.09 699.81,366.53 647.03,378.25 642.81,377.5" fill="#fff" stroke="#000" stroke-width="1.23" stroke-linejoin="round" />
<polygon points="615.62,367.37 642.81,373.56 642.81,377.5 617.03,372.53 615.62,371.41" fill="#fff" stroke="#000" stroke-width="1.23" stroke-linejoin="round" />
<polyline points="647.5,372.53 699.53,361.0" fill="none" stroke="#222" stroke-width="1.17" stroke-linejoin="round" stroke-linecap="round" />
<polyline points="621.25,366.72 621.25,371.87" fill="none" stroke="#000" stroke-width="1.04" stroke-linejoin="round" stroke-linecap="round" />
<polygon points="626.41,367.19 640.94,370.19 640.94,372.34 626.41,369.25" fill="#fff" stroke="#000" stroke-width="1.04" stroke-linejoin="round" />
<polyline points="642.81,373.75 647.03,374.22 647.03,378.25" fill="none" stroke="#000" stroke-width="1.04" stroke-linejoin="round" stroke-linecap="round" />
<polygon points="700.47,314.81 707.5,313.87 707.5,395.0 700.47,397.34" fill="#fff" stroke="#000" stroke-width="1.23" stroke-linejoin="round" />
<polygon points="661.09,306.19 662.5,304.5 673.75,303.56 713.12,307.97 713.59,309.37 710.78,313.59 700.0,315.0 664.84,309.84" fill="#fff" stroke="#000" stroke-width="1.43" stroke-linejoin="round" />
<polyline points="662.31,305.81 700.0,310.12 712.93,308.62" fill="none" stroke="#000" stroke-width="1.04" stroke-linejoin="round" stroke-linecap="round" />
<polyline points="666.25,305.44 674.69,304.69 707.5,308.62" fill="none" stroke="#000" stroke-width="0.78" stroke-linejoin="round" stroke-linecap="round" />
<polygon points="631.37,354.06 655.94,362.31 661.37,366.44 658.94,367.19 631.37,356.69" fill="#fff" stroke="#000" stroke-width="1.23" stroke-linejoin="round" />
<polygon points="623.12,342.81 641.41,346.75 663.9,364.37 661.37,366.44 655.94,362.31 631.37,354.06" fill="#fff" stroke="#000" stroke-width="1.43" stroke-linejoin="round" />
<polyline points="623.12,342.81 641.41,346.75 663.9,364.37" fill="none" stroke="#000" stroke-width="1.95" stroke-linejoin="round" stroke-linecap="round" />
<polygon points="628.28,374.37 636.25,376.06 636.25,396.41 628.28,394.81" fill="#fff" stroke="#000" stroke-width="1.23" stroke-linejoin="round" />
<polyline points="631.09,374.94 631.09,395.19" fill="none" stroke="#000" stroke-width="1.04" stroke-linejoin="round" stroke-linecap="round" />
<polygon points="645.16,377.66 653.12,376.25 653.12,401.56 645.16,401.09" fill="#fff" stroke="#000" stroke-width="1.23" stroke-linejoin="round" />
<polyline points="647.5,377.66 647.5,401.37" fill="none" stroke="#000" stroke-width="1.04" stroke-linejoin="round" stroke-linecap="round" />
<polygon points="624.06,395.47 628.75,394.06 656.4,402.03 656.4,405.12 650.5,408.31 624.06,399.87" fill="#fff" stroke="#000" stroke-width="1.3" stroke-linejoin="round" />
<polyline points="624.06,395.66 650.78,403.91 656.4,402.12" fill="none" stroke="#000" stroke-width="1.04" stroke-linejoin="round" stroke-linecap="round" />
<polyline points="650.78,403.91 650.5,408.31" fill="none" stroke="#000" stroke-width="1.04" stroke-linejoin="round" stroke-linecap="round" />
</g>
<g id="newton">
<path d="M938.12,354.75 C937.18,355.14 934.06,356.18 932.5,357.09 C930.94,358.00 930.00,358.39 928.75,360.19 C927.50,361.99 926.56,365.34 925.0,367.87 C923.44,370.40 921.09,372.87 919.37,375.37 C917.65,377.87 915.47,381.62 914.69,382.87" fill="none" stroke="#000" stroke-width="1.56" stroke-linejoin="round" stroke-linecap="round" />
<path d="M998.12,354.75 C998.82,355.61 1001.48,358.58 1002.34,359.91 C1003.20,361.24 1002.11,361.71 1003.28,362.72 C1004.45,363.74 1007.81,364.83 1009.37,366.0 C1010.93,367.17 1011.63,368.74 1012.65,369.75 C1013.67,370.76 1015.00,371.70 1015.47,372.09" fill="none" stroke="#000" stroke-width="1.56" stroke-linejoin="round" stroke-linecap="round" />
<path d="M937.96,325.49 L937.88,324.62 L938.01,323.86 L938.3,323.19 L938.68,322.6 L938.81,321.99 L938.74,321.35 L938.72,320.74 L938.78,320.16 L938.92,319.57 L939.14,318.94 L939.4,318.23 L939.11,317.52 L938.79,316.81 L938.58,316.07 L938.54,315.29 L938.65,314.51 L938.67,313.78 L938.36,313.12 L938.2,312.46 L938.25,311.83 L938.49,311.27 L938.88,310.84 L939.35,310.53 L939.85,310.29 L940.1,309.78 L940.4,309.32 L940.72,308.91 L941.05,308.57 L941.37,308.29 L941.67,308.03 L941.94,307.77 L942.18,307.49 L942.39,307.2 L942.46,306.89 L942.38,306.56 L942.31,306.23 L942.29,305.88 L942.33,305.49 L942.46,305.08 L942.72,304.67 L943.1,304.28 L943.61,303.94 L944.22,303.63 L944.59,303.05 L944.92,302.39 L945.36,301.82 L945.89,301.36 L946.49,301.03 L947.11,300.79 L947.56,300.44 L947.85,299.98 L948.18,299.58 L948.55,299.27 L948.94,299.03 L949.34,298.87 L949.75,298.76 L950.17,298.69 L950.6,298.62 L951.02,298.52 L951.26,298.14 L951.46,297.75 L951.64,297.38 L951.81,297.02 L952.02,296.67 L952.27,296.34 L952.58,296.04 L952.94,295.79 L953.34,295.6 L953.77,295.48 L954.08,295.16 L954.46,294.81 L954.93,294.52 L955.47,294.31 L956.05,294.22 L956.67,294.26 L957.3,294.4 L957.92,294.48 L958.52,294.23 L959.12,294.07 L959.73,294.03 L960.32,294.14 L960.88,294.4 L961.38,294.79 L961.87,295.18 L962.53,295.2 L963.16,295.26 L963.74,295.39 L964.27,295.57 L964.78,295.8 L965.31,296.03 L965.89,296.22 L966.42,295.9 L966.9,295.55 L967.4,295.24 L967.94,295.0 L968.53,294.86 L969.16,294.82 L969.79,294.87 L970.34,294.61 L970.94,294.36 L971.6,294.26 L972.28,294.33 L972.96,294.59 L973.61,294.98 L974.31,295.19 L975.07,295.13 L975.79,295.2 L976.44,295.39 L977.01,295.69 L977.51,296.04 L977.96,296.38 L978.47,296.34 L978.95,296.31 L979.39,296.31 L979.81,296.37 L980.2,296.49 L980.56,296.66 L980.89,296.9 L981.18,297.2 L981.44,297.56 L981.65,297.95 L982.01,298.19 L982.42,298.43 L982.8,298.73 L983.13,299.07 L983.4,299.44 L983.63,299.85 L983.81,300.29 L983.97,300.75 L984.16,301.21 L984.55,301.49 L985.03,301.65 L985.5,301.8 L985.96,302.0 L986.38,302.26 L986.76,302.59 L987.09,302.98 L987.35,303.42 L987.55,303.89 L987.99,304.13 L988.39,304.44 L988.74,304.83 L989.0,305.28 L989.16,305.77 L989.24,306.28 L989.25,306.82 L989.21,307.38 L989.4,307.87 L989.76,308.29 L990.11,308.7 L990.41,309.11 L990.67,309.56 L990.88,310.05 L991.04,310.59 L991.16,311.16 L991.51,311.59 L991.96,311.95 L992.35,312.38 L992.64,312.86 L992.81,313.4 L992.85,313.97 L992.8,314.55 L992.68,315.12 L992.93,315.64 L993.17,316.19 L993.33,316.76 L993.39,317.34 L993.33,317.93 L993.17,318.52 L992.95,319.12 L993.0,319.72 L993.18,320.34 L993.25,320.98 L993.21,321.61 L993.04,322.23 L992.76,322.84 L992.43,323.46 L992.61,324.14 L992.77,324.82 L992.85,325.5 L992.81,326.21 L992.64,326.98 L992.45,327.79 L992.83,328.58 L993.09,329.37 L993.17,330.17 L993.07,330.96 L992.86,331.72 L993.04,332.39 L993.27,333.0 L993.37,333.55 L993.36,334.04 L993.26,334.47 L993.12,334.85 L992.94,335.18 L992.75,335.49 L992.57,335.8 L992.49,336.15 L992.63,336.53 L992.82,336.92 L993.02,337.32 L993.18,337.73 L993.32,338.16 L993.41,338.62 L993.45,339.12 L993.47,339.65 L993.51,340.19 L993.92,340.6 L994.32,341.02 L994.66,341.47 L994.94,341.97 L995.18,342.54 L995.36,343.18 L995.51,343.87 L996.11,344.28 L996.66,344.74 L997.09,345.28 L997.38,345.91 L997.52,346.6 L997.53,347.29 L997.85,347.88 L998.25,348.48 L998.54,349.13 L998.66,349.84 L998.62,350.57 L998.46,351.29 L998.6,351.95 L998.85,352.6 L998.97,353.24 L998.93,353.85 L998.75,354.41 L998.46,354.91 L998.09,355.34 L997.86,355.8 L997.79,356.35 L997.64,356.88 L997.43,357.37 L997.13,357.82 L996.77,358.21 L996.34,358.56 L995.86,358.88 L995.51,359.3 L995.28,359.86 L994.99,360.37 L994.64,360.83 L994.22,361.21 L993.76,361.53 L993.27,361.83 L992.78,362.16 L992.69,362.73 L992.65,363.27 L992.61,363.8 L992.52,364.31 L992.38,364.83 L992.16,365.35 L991.9,365.86 L991.71,366.38 L991.84,366.92 L991.9,367.46 L991.86,367.96 L991.73,368.43 L991.53,368.84 L991.26,369.21 L990.95,369.53 L990.62,369.82 L990.29,370.09 L990.25,370.52 L990.22,370.93 L990.19,371.32 L990.17,371.69 L990.16,372.03 L990.15,372.38 L990.13,372.77 L990.09,373.18 L990.02,373.6 L989.91,374.01 L989.88,374.38 L989.99,374.74 L990.0,375.12 L989.87,375.52 L989.59,375.89 L989.2,376.22 L988.7,376.46 L988.12,376.6 L987.5,376.64 L986.91,376.72 L986.43,377.1 L985.94,377.38 L985.45,377.55 L985.0,377.6 L984.58,377.54 L984.22,377.38 L983.92,377.15 L983.68,376.87 L983.49,376.56 L983.33,376.23 L982.98,376.08 L982.64,375.92 L982.31,375.75 L982.0,375.58 L981.71,375.39 L981.44,375.17 L981.2,374.93 L980.98,374.65 L980.79,374.33 L980.63,373.98 L980.51,373.6 L980.39,373.22 L980.04,372.95 L979.7,372.62 L979.41,372.21 L979.19,371.72 L979.07,371.18 L979.05,370.61 L979.13,369.99 L979.25,369.35 L978.89,368.79 L978.56,368.23 L978.3,367.65 L978.13,367.05 L978.04,366.4 L977.99,365.69 L977.7,365.07 L977.16,364.55 L976.7,363.98 L976.38,363.32 L976.22,362.58 L976.18,361.78 L975.83,361.11 L975.38,360.43 L975.11,359.65 L975.08,358.79 L975.27,357.89 L975.16,357.0 L974.82,356.11 L974.7,355.22 L974.8,354.34 L975.03,353.46 L974.77,352.68 L974.42,351.98 L974.23,351.27 L974.24,350.54 L974.39,349.81 L974.61,349.11 L974.28,348.49 L973.98,347.95 L973.72,347.51 L973.48,347.13 L973.2,346.77 L972.78,346.39 L972.1,345.95 L971.08,346.16 L969.95,346.23 L968.73,345.96 L967.45,345.89 L966.25,346.39 L965.07,346.58 L963.87,346.65 L963.2,347.51 L962.81,348.35 L962.37,349.3 L961.91,350.62 L962.37,352.22 L962.2,354.0 L962.66,355.83 L962.88,357.72 L963.17,359.56 L963.67,361.25 L963.48,362.88 L964.15,364.07 L964.45,365.08 L964.53,365.99 L964.56,366.87 L965.06,367.44 L965.56,367.92 L965.94,368.4 L966.2,368.93 L966.32,369.51 L966.28,370.1 L966.08,370.68 L966.2,371.32 L966.23,372.01 L966.09,372.7 L965.76,373.32 L965.28,373.86 L964.7,374.33 L964.39,374.93 L964.22,375.6 L964.0,376.18 L963.74,376.67 L963.44,377.09 L963.09,377.47 L962.72,377.8 L962.34,378.11 L962.27,378.56 L962.17,378.99 L962.04,379.38 L961.85,379.74 L961.61,380.06 L961.31,380.32 L960.97,380.52 L960.61,380.63 L960.26,380.67 L959.92,380.65 L959.57,380.6 L959.24,380.63 L958.92,380.84 L958.6,381.06 L958.27,381.27 L957.93,381.48 L957.55,381.69 L957.09,381.89 L956.57,382.04 L955.99,382.15 L955.41,382.27 L955.02,382.73 L954.59,383.13 L954.13,383.43 L953.64,383.6 L953.15,383.65 L952.69,383.55 L952.3,383.35 L951.97,383.08 L951.69,382.77 L951.26,382.72 L950.83,382.64 L950.42,382.54 L950.04,382.45 L949.69,382.35 L949.34,382.27 L948.95,382.18 L948.5,382.1 L948.01,382.02 L947.51,382.04 L947.07,382.36 L946.62,382.63 L946.14,382.83 L945.63,382.92 L945.12,382.89 L944.64,382.72 L944.21,382.43 L943.81,382.06 L943.3,381.9 L942.72,381.82 L942.16,381.64 L941.66,381.36 L941.24,380.99 L940.92,380.55 L940.69,380.08 L940.57,379.63 L940.39,379.28 L940.12,378.92 L939.94,378.5 L939.83,378.04 L939.8,377.57 L939.84,377.11 L939.94,376.67 L940.05,376.23 L940.15,375.78 L940.19,375.3 L939.82,374.97 L939.42,374.69 L939.02,374.41 L938.64,374.11 L938.29,373.75 L937.99,373.34 L937.77,372.87 L937.62,372.39 L937.49,371.96 L937.18,371.62 L936.96,371.21 L936.84,370.76 L936.83,370.29 L936.91,369.82 L937.08,369.37 L937.31,368.94 L937.6,368.5 L937.88,368.03 L937.73,367.48 L937.55,366.95 L937.38,366.4 L937.25,365.8 L937.22,365.14 L937.27,364.42 L937.26,363.7 L936.84,363.07 L936.53,362.43 L936.39,361.77 L936.42,361.13 L936.6,360.54 L936.91,360.07 L937.15,359.61 L937.26,359.04 L937.46,358.5 L937.74,358.03 L938.07,357.63 L938.41,357.29 L938.75,356.98 L939.04,356.65 L939.24,356.24 L939.03,355.84 L938.7,355.53 L938.33,355.25 L937.96,354.96 L937.59,354.62 L937.26,354.22 L936.98,353.75 L936.77,353.26 L936.61,352.8 L936.24,352.5 L935.95,352.16 L935.69,351.79 L935.5,351.41 L935.37,350.99 L935.33,350.56 L935.36,350.11 L935.48,349.65 L935.68,349.2 L935.78,348.73 L935.69,348.16 L935.73,347.53 L935.96,346.87 L936.38,346.25 L936.98,345.7 L937.6,345.15 L937.77,344.31 L938.01,343.56 L938.34,342.91 L938.72,342.35 L939.08,341.81 L939.26,341.26 L939.03,340.77 L938.77,340.37 L938.51,339.98 L938.27,339.57 L938.08,339.09 L937.97,338.52 L937.97,337.88 L937.97,337.21 L937.6,336.48 L937.38,335.59 L937.43,334.57 L937.81,333.46 L937.59,332.27 L937.43,331.05 L937.71,329.83 L937.96,328.65 L937.68,327.48 L937.73,326.42Z" fill="#fff" stroke="#000" stroke-width="1.5" stroke-linejoin="round"/>
<path d="M939.17,324.68 C939.25,324.58 939.35,324.24 939.67,324.08 C939.99,323.92 940.70,323.86 941.1,323.72 C941.50,323.58 941.99,323.46 942.1,323.25 C942.22,323.04 942.03,322.75 941.79,322.45 C941.55,322.15 940.95,321.76 940.68,321.45 C940.41,321.14 940.10,320.82 940.15,320.59 C940.20,320.36 940.58,320.22 940.96,320.08 C941.34,319.94 942.05,319.87 942.42,319.72 C942.78,319.57 943.13,319.43 943.15,319.19 C943.17,318.95 942.82,318.62 942.54,318.31 C942.26,318.00 941.67,317.61 941.45,317.31 C941.23,317.01 941.08,316.73 941.22,316.53 C941.36,316.32 941.89,316.22 942.3,316.08 C942.71,315.94 943.47,315.77 943.7,315.71" fill="none" stroke="#444" stroke-width="1.1" stroke-linejoin="round" stroke-linecap="round" />
<path d="M977.74,349.61 C977.89,349.67 978.20,349.91 978.62,349.97 C979.04,350.03 979.83,349.92 980.26,349.98 C980.69,350.04 981.12,350.09 981.21,350.31 C981.30,350.53 981.02,350.91 980.78,351.28 C980.53,351.65 979.95,352.19 979.74,352.54 C979.53,352.90 979.37,353.23 979.53,353.41 C979.69,353.59 980.23,353.60 980.69,353.64 C981.15,353.68 982.02,353.66 982.29,353.66" fill="none" stroke="#888" stroke-width="0.95" stroke-linejoin="round" stroke-linecap="round" />
<path d="M982.96,317.36 C982.78,317.50 982.15,317.92 981.85,318.19 C981.55,318.46 981.18,318.73 981.15,318.97 C981.12,319.21 981.37,319.42 981.67,319.62 C981.97,319.82 982.60,319.99 982.95,320.18 C983.30,320.38 983.69,320.56 983.75,320.79 C983.81,321.02 983.58,321.28 983.32,321.54 C983.06,321.81 982.49,322.11 982.2,322.38 C981.92,322.65 981.60,322.92 981.61,323.15 C981.62,323.38 981.93,323.58 982.25,323.78 C982.57,323.98 983.21,324.14 983.54,324.34 C983.87,324.54 984.21,324.73 984.23,324.96 C984.25,325.19 983.96,325.46 983.68,325.73 C983.40,326.00 982.74,326.42 982.55,326.56" fill="none" stroke="#888" stroke-width="0.95" stroke-linejoin="round" stroke-linecap="round" />
<path d="M985.84,354.04 C985.74,354.16 985.15,354.50 985.25,354.73 C985.35,354.96 986.05,355.20 986.44,355.44 C986.84,355.68 987.52,355.93 987.62,356.16 C987.72,356.40 987.38,356.62 987.03,356.85 C986.68,357.08 985.80,357.30 985.52,357.53 C985.24,357.76 985.14,357.99 985.34,358.23 C985.54,358.47 986.35,358.71 986.73,358.95 C987.11,359.19 987.47,359.54 987.62,359.66" fill="none" stroke="#555" stroke-width="1.1" stroke-linejoin="round" stroke-linecap="round" />
<path d="M972.58,308.45 C972.82,308.37 973.62,308.07 974.03,307.99 C974.44,307.91 974.89,307.79 975.02,307.99 C975.15,308.19 974.88,308.78 974.79,309.2 C974.70,309.62 974.38,310.28 974.46,310.53 C974.54,310.78 974.90,310.75 975.28,310.7 C975.66,310.64 976.41,310.22 976.76,310.2 C977.11,310.18 977.37,310.25 977.4,310.55 C977.43,310.85 977.06,311.55 976.97,311.97 C976.88,312.39 976.71,312.90 976.89,313.05 C977.07,313.20 977.62,312.98 978.04,312.89 C978.46,312.80 979.15,312.44 979.42,312.5 C979.69,312.56 979.72,312.85 979.68,313.22 C979.64,313.59 979.23,314.34 979.19,314.71 C979.15,315.08 979.17,315.39 979.44,315.45 C979.71,315.51 980.59,315.12 980.82,315.06" fill="none" stroke="#444" stroke-width="0.8" stroke-linejoin="round" stroke-linecap="round" />
<path d="M981.71,334.67 C981.89,334.54 982.53,334.13 982.81,333.88 C983.09,333.62 983.42,333.37 983.39,333.14 C983.36,332.91 982.93,332.70 982.6,332.49 C982.27,332.28 981.63,332.10 981.43,331.88 C981.22,331.66 981.21,331.43 981.37,331.18 C981.53,330.93 982.13,330.65 982.42,330.4 C982.71,330.14 983.12,329.88 983.13,329.65 C983.14,329.41 982.79,329.20 982.48,328.99 C982.17,328.78 981.51,328.60 981.27,328.38 C981.03,328.16 980.91,327.94 981.04,327.7 C981.17,327.46 981.87,327.05 982.03,326.92" fill="none" stroke="#777" stroke-width="0.8" stroke-linejoin="round" stroke-linecap="round" />
<path d="M957.13,369.84 C957.11,369.96 957.30,370.47 957.01,370.58 C956.72,370.69 955.86,370.48 955.41,370.5 C954.96,370.52 954.38,370.48 954.3,370.7 C954.21,370.92 954.66,371.42 954.9,371.82 C955.14,372.22 955.73,372.80 955.75,373.08 C955.77,373.36 955.41,373.43 955.0,373.47 C954.59,373.52 953.67,373.29 953.3,373.35 C952.93,373.42 952.72,373.56 952.79,373.86 C952.86,374.16 953.51,374.78 953.74,375.17 C953.97,375.56 954.30,376.00 954.15,376.19 C954.00,376.38 953.33,376.28 952.86,376.29 C952.39,376.31 951.61,376.28 951.36,376.28" fill="none" stroke="#666" stroke-width="0.8" stroke-linejoin="round" stroke-linecap="round" />
<path d="M944.4,336.53 C944.59,336.39 945.26,335.94 945.56,335.67 C945.85,335.40 946.24,335.11 946.17,334.88 C946.10,334.65 945.53,334.50 945.16,334.31 C944.79,334.12 944.09,333.99 943.93,333.77 C943.77,333.55 943.96,333.29 944.21,333.02 C944.46,332.75 945.20,332.41 945.43,332.15 C945.66,331.88 945.77,331.64 945.58,331.43 C945.39,331.22 944.66,331.08 944.29,330.89 C943.92,330.70 943.41,330.54 943.38,330.31 C943.35,330.08 943.98,329.64 944.1,329.51" fill="none" stroke="#777" stroke-width="1.1" stroke-linejoin="round" stroke-linecap="round" />
<path d="M941.53,341.0 C941.38,341.14 940.90,341.55 940.65,341.82 C940.40,342.09 940.08,342.37 940.05,342.61 C940.02,342.85 940.22,343.06 940.47,343.26 C940.72,343.46 941.26,343.62 941.55,343.82 C941.84,344.02 942.18,344.21 942.23,344.44 C942.28,344.67 942.08,344.93 941.87,345.19 C941.66,345.45 941.18,345.76 940.96,346.02 C940.75,346.28 940.53,346.54 940.58,346.77 C940.63,347.00 940.95,347.19 941.24,347.39 C941.53,347.59 942.08,347.76 942.33,347.96 C942.59,348.16 942.79,348.36 942.77,348.6 C942.75,348.84 942.42,349.12 942.18,349.39 C941.93,349.66 941.45,350.07 941.3,350.21" fill="none" stroke="#888" stroke-width="0.8" stroke-linejoin="round" stroke-linecap="round" />
<path d="M946.95,310.39 C947.15,310.51 947.76,310.90 948.15,311.12 C948.54,311.34 949.04,311.79 949.28,311.73 C949.51,311.67 949.52,311.20 949.56,310.78 C949.59,310.36 949.40,309.52 949.49,309.2 C949.58,308.88 949.79,308.78 950.11,308.88 C950.43,308.98 951.04,309.60 951.41,309.79 C951.78,309.98 952.18,310.22 952.35,310.04 C952.52,309.86 952.41,309.18 952.43,308.73 C952.45,308.28 952.31,307.55 952.46,307.34 C952.61,307.13 952.97,307.29 953.33,307.47 C953.70,307.65 954.43,308.25 954.65,308.41" fill="none" stroke="#666" stroke-width="0.8" stroke-linejoin="round" stroke-linecap="round" />
<path d="M984.25,336.83 C984.24,337.00 984.38,337.68 984.2,337.83 C984.02,337.98 983.56,337.82 983.16,337.72 C982.76,337.62 982.12,337.26 981.78,337.23 C981.44,337.20 981.21,337.28 981.14,337.55 C981.07,337.82 981.31,338.45 981.38,338.88 C981.45,339.31 981.65,339.88 981.55,340.12 C981.45,340.36 981.14,340.37 980.78,340.31 C980.42,340.25 979.77,339.88 979.38,339.79 C978.99,339.71 978.60,339.61 978.45,339.8 C978.30,339.99 978.44,340.49 978.5,340.91 C978.56,341.33 978.85,341.99 978.82,342.31 C978.80,342.63 978.65,342.82 978.35,342.84 C978.05,342.86 977.44,342.53 977.03,342.41 C976.62,342.30 976.09,342.06 975.86,342.15 C975.63,342.24 975.68,342.83 975.65,342.97" fill="none" stroke="#444" stroke-width="1.1" stroke-linejoin="round" stroke-linecap="round" />
<path d="M969.29,295.87 C969.24,296.19 969.00,297.25 968.96,297.76 C968.93,298.26 968.84,298.84 969.08,298.9 C969.32,298.96 969.94,298.40 970.39,298.11 C970.84,297.82 971.51,297.16 971.79,297.15 C972.07,297.14 972.09,297.57 972.07,298.04 C972.06,298.51 971.68,299.56 971.7,299.98 C971.72,300.40 971.84,300.65 972.17,300.57 C972.50,300.49 973.22,299.75 973.66,299.47 C974.10,299.19 974.63,298.77 974.82,298.91 C975.01,299.05 974.79,300.08 974.79,300.31" fill="none" stroke="#555" stroke-width="1.1" stroke-linejoin="round" stroke-linecap="round" />
<path d="M990.7,355.88 C990.61,355.96 990.15,356.14 990.13,356.39 C990.11,356.64 990.38,357.01 990.6,357.36 C990.82,357.71 991.27,358.17 991.44,358.5 C991.62,358.83 991.76,359.15 991.65,359.35 C991.54,359.56 991.16,359.64 990.78,359.73 C990.40,359.82 989.75,359.79 989.36,359.87 C988.97,359.95 988.55,360.03 988.41,360.22 C988.27,360.42 988.37,360.72 988.53,361.04 C988.69,361.37 989.12,361.81 989.35,362.17 C989.58,362.53 989.88,362.91 989.89,363.17 C989.90,363.43 989.49,363.63 989.41,363.72" fill="none" stroke="#555" stroke-width="0.8" stroke-linejoin="round" stroke-linecap="round" />
<path d="M991.72,327.36 C991.49,327.35 990.81,327.31 990.35,327.28 C989.89,327.25 989.23,327.09 988.98,327.2 C988.73,327.31 988.73,327.59 988.83,327.94 C988.93,328.29 989.42,328.90 989.59,329.3 C989.76,329.70 989.97,330.13 989.84,330.32 C989.71,330.51 989.23,330.47 988.8,330.46 C988.37,330.45 987.62,330.22 987.26,330.26 C986.90,330.30 986.65,330.41 986.64,330.69 C986.63,330.97 987.03,331.52 987.22,331.93 C987.41,332.34 987.81,332.89 987.81,333.17 C987.80,333.45 987.55,333.55 987.19,333.59 C986.83,333.63 985.90,333.42 985.64,333.39" fill="none" stroke="#555" stroke-width="0.8" stroke-linejoin="round" stroke-linecap="round" />
<path d="M941.62,346.94 C941.41,347.01 940.56,347.17 940.35,347.36 C940.14,347.55 940.19,347.80 940.38,348.09 C940.57,348.38 941.18,348.75 941.51,349.07 C941.84,349.38 942.29,349.73 942.34,349.98 C942.39,350.23 942.14,350.41 941.8,350.57 C941.46,350.73 940.72,350.80 940.3,350.94 C939.88,351.08 939.40,351.21 939.3,351.43 C939.20,351.65 939.45,351.94 939.72,352.24 C939.99,352.54 940.63,352.93 940.92,353.24 C941.20,353.55 941.49,353.86 941.43,354.08 C941.37,354.30 940.68,354.50 940.53,354.59" fill="none" stroke="#666" stroke-width="0.8" stroke-linejoin="round" stroke-linecap="round" />
<path d="M963.32,365.37 C963.13,365.48 962.49,365.82 962.19,366.05 C961.89,366.28 961.50,366.51 961.52,366.74 C961.54,366.97 962.04,367.21 962.34,367.45 C962.64,367.69 963.25,367.94 963.35,368.17 C963.45,368.41 963.19,368.63 962.92,368.86 C962.65,369.09 961.94,369.31 961.73,369.54 C961.52,369.77 961.47,370.00 961.64,370.24 C961.81,370.48 962.50,370.72 962.78,370.96 C963.06,371.20 963.39,371.44 963.33,371.67 C963.27,371.90 962.55,372.24 962.4,372.35" fill="none" stroke="#888" stroke-width="1.1" stroke-linejoin="round" stroke-linecap="round" />
<path d="M953.21,305.85 C953.37,305.99 953.85,306.47 954.14,306.68 C954.43,306.89 954.73,307.12 954.97,307.1 C955.21,307.09 955.40,306.87 955.57,306.59 C955.74,306.31 955.84,305.79 955.99,305.45 C956.14,305.11 956.28,304.68 956.48,304.52 C956.68,304.36 956.92,304.36 957.19,304.47 C957.46,304.58 957.80,304.96 958.1,305.2 C958.40,305.44 958.73,305.80 959.0,305.9 C959.27,306.00 959.50,305.99 959.7,305.81 C959.90,305.63 960.03,305.20 960.18,304.85 C960.33,304.50 960.44,303.99 960.61,303.72 C960.78,303.45 960.97,303.25 961.21,303.25 C961.45,303.25 961.91,303.63 962.05,303.71" fill="none" stroke="#777" stroke-width="0.95" stroke-linejoin="round" stroke-linecap="round" />
<path d="M978.83,306.57 C978.88,306.69 979.13,306.93 979.1,307.29 C979.07,307.65 978.71,308.34 978.67,308.71 C978.63,309.08 978.63,309.41 978.88,309.49 C979.13,309.57 979.75,309.28 980.16,309.2 C980.57,309.12 981.13,308.88 981.35,308.99 C981.57,309.11 981.50,309.50 981.45,309.89 C981.40,310.27 981.03,310.97 981.03,311.3 C981.03,311.63 981.14,311.85 981.43,311.89 C981.72,311.93 982.39,311.59 982.79,311.52 C983.19,311.45 983.69,311.28 983.85,311.45 C984.01,311.62 983.85,312.11 983.78,312.51 C983.71,312.91 983.47,313.64 983.41,313.87" fill="none" stroke="#555" stroke-width="0.8" stroke-linejoin="round" stroke-linecap="round" />
<path d="M958.45,298.64 C958.60,298.74 959.01,298.94 959.32,299.26 C959.63,299.57 960.05,300.31 960.34,300.53 C960.63,300.75 960.88,300.80 961.06,300.56 C961.24,300.32 961.31,299.55 961.44,299.1 C961.57,298.65 961.65,298.00 961.86,297.86 C962.07,297.72 962.37,297.99 962.68,298.27 C962.99,298.55 963.41,299.31 963.71,299.57 C964.01,299.83 964.29,300.01 964.49,299.83 C964.69,299.65 964.76,298.94 964.89,298.49 C965.02,298.04 965.09,297.31 965.28,297.11 C965.47,296.91 965.74,297.05 966.04,297.3 C966.34,297.55 966.90,298.38 967.07,298.59" fill="none" stroke="#888" stroke-width="0.95" stroke-linejoin="round" stroke-linecap="round" />
<path d="M983.54,360.74 C983.32,360.83 982.53,361.07 982.25,361.27 C981.97,361.47 981.78,361.69 981.84,361.93 C981.90,362.17 982.27,362.45 982.59,362.73 C982.91,363.01 983.49,363.32 983.77,363.59 C984.05,363.86 984.31,364.13 984.28,364.36 C984.25,364.59 983.93,364.79 983.59,364.98 C983.25,365.17 982.61,365.32 982.23,365.51 C981.85,365.69 981.42,365.87 981.3,366.09 C981.18,366.31 981.30,366.56 981.52,366.82 C981.74,367.08 982.28,367.40 982.62,367.68 C982.96,367.96 983.44,368.26 983.58,368.51 C983.72,368.76 983.69,368.99 983.48,369.2 C983.27,369.41 982.52,369.66 982.33,369.75" fill="none" stroke="#888" stroke-width="1.1" stroke-linejoin="round" stroke-linecap="round" />
<path d="M946.25,327.06 C946.24,327.22 946.08,327.84 946.21,328.04 C946.34,328.24 946.65,328.27 947.01,328.26 C947.37,328.25 947.94,328.05 948.35,328.0 C948.76,327.95 949.23,327.85 949.46,327.96 C949.70,328.06 949.77,328.31 949.76,328.63 C949.75,328.95 949.50,329.48 949.39,329.89 C949.28,330.30 949.07,330.79 949.1,331.08 C949.13,331.37 949.29,331.55 949.57,331.61 C949.85,331.68 950.36,331.53 950.78,331.47 C951.20,331.41 951.76,331.23 952.08,331.25 C952.40,331.27 952.61,331.56 952.71,331.62" fill="none" stroke="#888" stroke-width="1.1" stroke-linejoin="round" stroke-linecap="round" />
<path d="M988.06,361.64 C988.07,361.76 987.94,362.10 988.13,362.36 C988.32,362.62 988.85,362.94 989.19,363.23 C989.53,363.52 990.01,363.83 990.15,364.09 C990.28,364.35 990.23,364.57 990.0,364.77 C989.77,364.97 989.19,365.12 988.78,365.29 C988.37,365.46 987.79,365.61 987.55,365.81 C987.31,366.01 987.24,366.24 987.36,366.49 C987.48,366.75 987.95,367.05 988.28,367.34 C988.61,367.63 989.16,367.94 989.36,368.21 C989.56,368.48 989.46,368.82 989.48,368.94" fill="none" stroke="#888" stroke-width="0.8" stroke-linejoin="round" stroke-linecap="round" />
<path d="M949.69,369.85 C949.52,369.96 948.96,370.29 948.66,370.51 C948.36,370.73 947.99,370.96 947.89,371.19 C947.79,371.42 947.87,371.65 948.05,371.89 C948.23,372.13 948.68,372.38 948.97,372.63 C949.26,372.88 949.67,373.12 949.81,373.36 C949.95,373.60 949.94,373.83 949.79,374.06 C949.64,374.29 949.23,374.51 948.92,374.73 C948.61,374.95 948.14,375.16 947.94,375.39 C947.74,375.62 947.62,375.84 947.7,376.08 C947.78,376.32 948.12,376.56 948.4,376.81 C948.68,377.06 949.16,377.31 949.39,377.55 C949.62,377.79 949.80,378.03 949.76,378.26 C949.72,378.49 949.43,378.72 949.16,378.94 C948.88,379.16 948.28,379.49 948.11,379.6" fill="none" stroke="#888" stroke-width="0.8" stroke-linejoin="round" stroke-linecap="round" />
<path d="M986.02,320.41 C985.88,320.62 985.30,321.31 985.18,321.64 C985.05,321.97 985.03,322.24 985.27,322.38 C985.51,322.52 986.17,322.43 986.6,322.47 C987.03,322.51 987.64,322.45 987.84,322.61 C988.04,322.77 987.93,323.10 987.78,323.44 C987.63,323.78 987.08,324.33 986.93,324.67 C986.77,325.01 986.66,325.35 986.85,325.51 C987.04,325.67 987.64,325.61 988.07,325.65 C988.50,325.69 989.17,325.60 989.41,325.74 C989.65,325.88 989.64,326.14 989.52,326.47 C989.40,326.80 988.83,327.50 988.69,327.7" fill="none" stroke="#444" stroke-width="1.1" stroke-linejoin="round" stroke-linecap="round" />
<path d="M947.74,336.27 C947.64,336.46 947.30,337.05 947.17,337.39 C947.04,337.73 946.86,338.10 946.95,338.32 C947.04,338.54 947.36,338.62 947.7,338.7 C948.04,338.78 948.63,338.71 948.97,338.79 C949.31,338.87 949.63,338.96 949.71,339.18 C949.79,339.40 949.59,339.78 949.46,340.12 C949.33,340.46 948.98,340.92 948.91,341.23 C948.84,341.54 948.85,341.80 949.05,341.96 C949.25,342.12 949.75,342.10 950.13,342.16 C950.50,342.22 951.05,342.18 951.3,342.3 C951.55,342.43 951.66,342.63 951.63,342.91 C951.60,343.19 951.22,343.82 951.14,344.0" fill="none" stroke="#555" stroke-width="0.8" stroke-linejoin="round" stroke-linecap="round" />
<path d="M941.71,339.84 C941.72,339.98 941.59,340.54 941.79,340.67 C941.99,340.81 942.51,340.69 942.93,340.65 C943.35,340.61 944.00,340.39 944.33,340.43 C944.66,340.47 944.87,340.60 944.89,340.88 C944.91,341.16 944.61,341.70 944.47,342.11 C944.33,342.52 944.02,343.07 944.04,343.35 C944.06,343.63 944.27,343.76 944.6,343.8 C944.93,343.84 945.58,343.62 946.0,343.58 C946.42,343.54 946.94,343.42 947.15,343.55 C947.36,343.68 947.22,344.24 947.23,344.38" fill="none" stroke="#555" stroke-width="1.1" stroke-linejoin="round" stroke-linecap="round" />
<path d="M959.61,362.39 C959.60,362.51 959.35,362.82 959.52,363.09 C959.69,363.36 960.31,363.71 960.62,364.01 C960.93,364.31 961.38,364.64 961.41,364.88 C961.44,365.12 961.13,365.30 960.79,365.47 C960.44,365.64 959.70,365.73 959.34,365.9 C958.98,366.07 958.64,366.25 958.65,366.49 C958.66,366.73 959.09,367.04 959.4,367.34 C959.71,367.64 960.34,368.00 960.52,368.27 C960.70,368.54 960.50,368.86 960.49,368.98" fill="none" stroke="#777" stroke-width="1.1" stroke-linejoin="round" stroke-linecap="round" />
<path d="M955.6,339.69 C955.62,339.47 955.68,338.81 955.73,338.35 C955.78,337.89 955.95,337.26 955.92,336.92 C955.88,336.58 955.78,336.33 955.52,336.29 C955.26,336.25 954.79,336.49 954.37,336.66 C953.95,336.83 953.38,337.21 953.01,337.32 C952.64,337.43 952.29,337.50 952.13,337.33 C951.97,337.16 952.00,336.73 952.02,336.3 C952.04,335.87 952.25,335.20 952.28,334.77 C952.31,334.34 952.34,333.91 952.18,333.74 C952.02,333.57 951.68,333.63 951.31,333.74 C950.94,333.85 950.36,334.23 949.94,334.4 C949.52,334.57 949.06,334.81 948.8,334.77 C948.54,334.73 948.42,334.49 948.38,334.15 C948.34,333.81 948.53,333.18 948.58,332.72 C948.63,332.26 948.68,331.60 948.7,331.37" fill="none" stroke="#666" stroke-width="0.95" stroke-linejoin="round" stroke-linecap="round" />
<path d="M972.3,304.47 C972.21,304.35 971.93,304.06 971.78,303.76 C971.63,303.45 971.54,302.94 971.39,302.64 C971.24,302.34 971.08,302.06 970.86,301.99 C970.64,301.93 970.34,302.09 970.05,302.25 C969.76,302.41 969.39,302.79 969.1,302.96 C968.81,303.13 968.51,303.30 968.28,303.25 C968.05,303.20 967.89,302.93 967.73,302.64 C967.57,302.35 967.49,301.84 967.34,301.53 C967.19,301.22 967.05,300.88 966.84,300.78 C966.63,300.68 966.35,300.78 966.06,300.92 C965.77,301.06 965.42,301.44 965.12,301.62 C964.82,301.80 964.51,302.03 964.27,302.01 C964.03,301.99 963.84,301.78 963.68,301.52 C963.52,301.25 963.43,300.74 963.29,300.42 C963.14,300.10 962.89,299.72 962.81,299.58" fill="none" stroke="#555" stroke-width="1.1" stroke-linejoin="round" stroke-linecap="round" />
<path d="M948.97,350.99 C948.80,351.16 948.16,351.69 947.96,351.98 C947.76,352.27 947.64,352.55 947.79,352.75 C947.94,352.95 948.45,353.06 948.84,353.2 C949.24,353.34 949.88,353.40 950.16,353.57 C950.44,353.74 950.60,353.95 950.52,354.21 C950.44,354.47 950.00,354.82 949.71,355.14 C949.43,355.45 948.93,355.83 948.81,356.1 C948.69,356.37 948.75,356.60 948.99,356.78 C949.23,356.96 949.84,357.04 950.24,357.17 C950.64,357.31 951.21,357.40 951.4,357.59 C951.59,357.78 951.56,358.03 951.4,358.31 C951.24,358.59 950.60,359.13 950.44,359.29" fill="none" stroke="#666" stroke-width="1.1" stroke-linejoin="round" stroke-linecap="round" />
<path d="M987.11,346.07 C987.21,346.23 987.44,346.70 987.68,347.05 C987.92,347.40 988.38,347.83 988.54,348.15 C988.70,348.46 988.79,348.75 988.64,348.94 C988.49,349.13 988.04,349.21 987.64,349.3 C987.24,349.39 986.60,349.38 986.24,349.49 C985.88,349.60 985.57,349.72 985.51,349.95 C985.45,350.18 985.67,350.53 985.88,350.86 C986.09,351.19 986.62,351.78 986.77,351.96" fill="none" stroke="#888" stroke-width="0.95" stroke-linejoin="round" stroke-linecap="round" />
<path d="M949.96,356.3 C949.70,356.47 948.71,357.01 948.42,357.3 C948.13,357.59 948.00,357.86 948.23,358.05 C948.46,358.24 949.33,358.31 949.82,358.46 C950.31,358.60 951.05,358.71 951.18,358.92 C951.31,359.13 950.96,359.44 950.61,359.74 C950.26,360.04 949.36,360.45 949.07,360.74 C948.78,361.03 948.63,361.30 948.86,361.49 C949.09,361.68 949.95,361.75 950.44,361.9 C950.93,362.04 951.68,362.15 951.82,362.36 C951.96,362.57 951.35,363.04 951.26,363.18" fill="none" stroke="#777" stroke-width="0.8" stroke-linejoin="round" stroke-linecap="round" />
<path d="M944.28,317.44 C944.33,317.33 944.72,317.07 944.58,316.79 C944.44,316.51 943.80,316.10 943.45,315.77 C943.10,315.44 942.53,315.05 942.46,314.79 C942.39,314.53 942.65,314.35 943.02,314.21 C943.39,314.06 944.22,314.05 944.66,313.92 C945.10,313.79 945.58,313.68 945.63,313.45 C945.68,313.22 945.30,312.88 944.98,312.55 C944.66,312.22 943.94,311.79 943.7,311.49 C943.46,311.19 943.57,310.86 943.54,310.73" fill="none" stroke="#666" stroke-width="1.1" stroke-linejoin="round" stroke-linecap="round" />
<path d="M985.8,308.08 C985.79,307.93 985.72,307.54 985.77,307.2 C985.82,306.86 986.07,306.35 986.1,306.03 C986.13,305.70 986.14,305.40 985.96,305.25 C985.78,305.10 985.37,305.12 985.01,305.11 C984.65,305.10 984.11,305.24 983.81,305.18 C983.51,305.12 983.27,305.02 983.19,304.78 C983.11,304.54 983.27,304.12 983.34,303.76 C983.41,303.40 983.64,302.92 983.62,302.63 C983.60,302.34 983.49,302.14 983.24,302.04 C982.99,301.94 982.50,302.04 982.13,302.04 C981.76,302.04 981.28,302.13 981.03,302.03 C980.78,301.93 980.67,301.73 980.65,301.44 C980.63,301.15 980.86,300.67 980.93,300.31 C981.00,299.95 981.06,299.46 981.08,299.29" fill="none" stroke="#444" stroke-width="1.1" stroke-linejoin="round" stroke-linecap="round" />
<path d="M958.53,353.46 C958.34,353.54 957.55,353.76 957.37,353.96 C957.19,354.16 957.25,354.41 957.43,354.68 C957.61,354.95 958.22,355.30 958.43,355.58 C958.64,355.86 958.82,356.13 958.69,356.34 C958.56,356.55 957.97,356.68 957.63,356.85 C957.29,357.02 956.75,357.16 956.64,357.38 C956.53,357.60 956.78,357.88 957.0,358.16 C957.22,358.44 957.83,358.79 957.98,359.06 C958.13,359.33 957.94,359.64 957.93,359.76" fill="none" stroke="#555" stroke-width="0.8" stroke-linejoin="round" stroke-linecap="round" />
<path d="M944.47,312.49 C944.50,312.38 944.72,312.08 944.63,311.8 C944.54,311.52 944.16,311.12 943.96,310.79 C943.76,310.46 943.44,310.09 943.41,309.83 C943.38,309.57 943.54,309.38 943.8,309.23 C944.06,309.08 944.62,309.05 944.99,308.94 C945.36,308.83 945.84,308.77 946.02,308.59 C946.20,308.41 946.20,308.16 946.09,307.87 C945.99,307.58 945.59,307.17 945.39,306.84 C945.19,306.51 944.97,306.06 944.89,305.9" fill="none" stroke="#777" stroke-width="0.8" stroke-linejoin="round" stroke-linecap="round" />
<path d="M973.95,303.23 C973.83,303.22 973.47,303.00 973.25,303.19 C973.03,303.38 972.84,303.98 972.63,304.34 C972.42,304.70 972.23,305.24 972.0,305.36 C971.77,305.49 971.53,305.33 971.28,305.09 C971.03,304.85 970.75,304.22 970.49,303.92 C970.24,303.62 969.98,303.29 969.75,303.31 C969.52,303.33 969.31,303.72 969.1,304.05 C968.89,304.38 968.71,305.05 968.49,305.32 C968.27,305.59 967.92,305.60 967.81,305.66" fill="none" stroke="#888" stroke-width="0.8" stroke-linejoin="round" stroke-linecap="round" />
<path d="M948.91,304.05 C949.04,304.14 949.46,304.62 949.69,304.58 C949.92,304.54 950.11,304.19 950.29,303.82 C950.47,303.45 950.61,302.76 950.79,302.37 C950.97,301.98 951.15,301.55 951.37,301.46 C951.59,301.37 951.86,301.56 952.13,301.82 C952.40,302.08 952.73,302.69 953.01,303.04 C953.29,303.39 953.59,303.84 953.84,303.93 C954.09,304.02 954.31,303.87 954.5,303.59 C954.69,303.31 954.84,302.67 955.01,302.24 C955.18,301.81 955.34,301.24 955.55,301.02 C955.76,300.80 956.13,300.95 956.25,300.94" fill="none" stroke="#888" stroke-width="0.95" stroke-linejoin="round" stroke-linecap="round" />
<path d="M962.1,299.58 C961.91,299.45 961.25,298.85 960.96,298.78 C960.67,298.71 960.48,298.84 960.36,299.14 C960.24,299.44 960.31,300.15 960.25,300.58 C960.19,301.01 960.18,301.55 960.0,301.71 C959.82,301.87 959.48,301.72 959.14,301.53 C958.80,301.34 958.29,300.78 957.95,300.59 C957.61,300.40 957.28,300.25 957.09,300.4 C956.90,300.55 956.89,301.09 956.83,301.52 C956.77,301.95 956.84,302.67 956.72,302.97 C956.60,303.27 956.41,303.41 956.12,303.34 C955.83,303.27 955.18,302.67 954.99,302.54" fill="none" stroke="#555" stroke-width="1.1" stroke-linejoin="round" stroke-linecap="round" />
<path d="M990.23,338.67 C990.00,338.67 989.26,338.61 988.88,338.65 C988.50,338.69 988.06,338.70 987.93,338.89 C987.80,339.08 987.96,339.45 988.09,339.81 C988.22,340.17 988.63,340.69 988.71,341.02 C988.79,341.35 988.81,341.63 988.59,341.77 C988.37,341.91 987.81,341.84 987.41,341.86 C987.01,341.88 986.43,341.80 986.18,341.92 C985.93,342.04 985.87,342.28 985.93,342.59 C985.99,342.90 986.39,343.42 986.53,343.78 C986.67,344.14 986.89,344.55 986.79,344.77 C986.69,344.99 986.31,345.02 985.94,345.07 C985.57,345.12 984.80,345.05 984.57,345.04" fill="none" stroke="#555" stroke-width="1.1" stroke-linejoin="round" stroke-linecap="round" />
<path d="M944.27,357.57 C944.16,357.71 943.62,358.17 943.59,358.41 C943.56,358.65 943.79,358.85 944.1,359.03 C944.41,359.21 945.05,359.32 945.43,359.49 C945.81,359.66 946.26,359.81 946.38,360.03 C946.50,360.25 946.35,360.51 946.13,360.79 C945.91,361.07 945.35,361.41 945.06,361.7 C944.76,361.99 944.39,362.30 944.36,362.54 C944.33,362.78 944.56,362.98 944.86,363.16 C945.16,363.34 945.80,363.46 946.18,363.63 C946.56,363.80 947.02,363.95 947.14,364.16 C947.26,364.37 946.96,364.79 946.92,364.91" fill="none" stroke="#777" stroke-width="0.8" stroke-linejoin="round" stroke-linecap="round" />
<path d="M955.74,359.93 C955.79,360.05 956.13,360.38 956.05,360.62 C955.96,360.86 955.53,361.10 955.23,361.34 C954.93,361.58 954.39,361.83 954.22,362.07 C954.05,362.31 954.02,362.54 954.18,362.77 C954.34,363.00 954.85,363.21 955.17,363.44 C955.49,363.67 955.96,363.89 956.09,364.12 C956.22,364.35 956.13,364.59 955.93,364.83 C955.73,365.07 955.18,365.31 954.88,365.55 C954.58,365.79 954.20,366.03 954.15,366.27 C954.10,366.50 954.31,366.73 954.57,366.96 C954.83,367.19 955.41,367.40 955.69,367.63 C955.97,367.86 956.27,368.09 956.27,368.32 C956.27,368.55 955.95,368.79 955.67,369.03 C955.39,369.27 954.82,369.52 954.58,369.76 C954.34,370.00 954.31,370.35 954.25,370.47" fill="none" stroke="#444" stroke-width="0.8" stroke-linejoin="round" stroke-linecap="round" />
<path d="M972.27,336.77 C972.48,336.81 973.16,337.00 973.54,337.04 C973.92,337.09 974.33,337.17 974.54,337.04 C974.75,336.91 974.78,336.62 974.77,336.28 C974.76,335.94 974.54,335.40 974.49,335.02 C974.44,334.64 974.34,334.21 974.45,334.0 C974.57,333.79 974.85,333.74 975.18,333.74 C975.51,333.74 976.06,333.95 976.44,334.0 C976.82,334.05 977.25,334.14 977.47,334.03 C977.69,333.92 977.75,333.65 977.75,333.32 C977.75,332.99 977.54,332.45 977.48,332.07 C977.42,331.69 977.31,331.25 977.41,331.02 C977.51,330.79 977.77,330.72 978.09,330.71 C978.41,330.70 979.12,330.91 979.33,330.95" fill="none" stroke="#666" stroke-width="1.1" stroke-linejoin="round" stroke-linecap="round" />
<path d="M948.43,321.38 C948.41,321.26 948.54,320.92 948.33,320.66 C948.12,320.40 947.54,320.11 947.15,319.84 C946.76,319.57 946.20,319.28 946.0,319.03 C945.80,318.78 945.78,318.54 945.97,318.32 C946.16,318.10 946.71,317.92 947.14,317.73 C947.57,317.54 948.22,317.37 948.53,317.16 C948.84,316.96 949.04,316.74 948.97,316.5 C948.90,316.26 948.49,315.99 948.13,315.72 C947.77,315.45 947.12,315.15 946.81,314.89 C946.50,314.62 946.34,314.26 946.25,314.13" fill="none" stroke="#888" stroke-width="1.1" stroke-linejoin="round" stroke-linecap="round" />
<path d="M946.73,367.54 C946.68,367.65 946.75,368.04 946.44,368.18 C946.13,368.32 945.36,368.32 944.9,368.41 C944.44,368.50 943.85,368.55 943.69,368.74 C943.54,368.93 943.73,369.24 943.97,369.57 C944.21,369.90 944.88,370.37 945.15,370.7 C945.42,371.03 945.68,371.37 945.57,371.58 C945.46,371.79 944.92,371.85 944.47,371.95 C944.02,372.05 943.23,372.04 942.89,372.17 C942.55,372.30 942.36,372.48 942.44,372.75 C942.52,373.02 943.07,373.46 943.39,373.81 C943.71,374.16 944.26,374.60 944.35,374.87 C944.44,375.14 944.26,375.32 943.93,375.46 C943.60,375.59 942.80,375.58 942.35,375.68 C941.90,375.78 941.42,375.98 941.23,376.04" fill="none" stroke="#666" stroke-width="1.1" stroke-linejoin="round" stroke-linecap="round" />
<path d="M952.85,358.64 C952.66,358.78 951.74,359.25 951.72,359.49 C951.70,359.73 952.26,359.88 952.72,360.06 C953.18,360.24 954.18,360.34 954.47,360.54 C954.76,360.74 954.73,360.98 954.45,361.25 C954.18,361.52 953.19,361.88 952.82,362.17 C952.45,362.46 952.07,362.74 952.21,362.96 C952.35,363.18 953.19,363.30 953.68,363.47 C954.17,363.64 954.99,363.76 955.13,363.98 C955.27,364.20 954.61,364.64 954.5,364.77" fill="none" stroke="#666" stroke-width="0.8" stroke-linejoin="round" stroke-linecap="round" />
<path d="M991.72,314.21 C991.64,314.12 991.56,313.75 991.23,313.69 C990.90,313.62 990.22,313.80 989.77,313.82 C989.32,313.84 988.74,313.95 988.51,313.82 C988.28,313.69 988.29,313.40 988.4,313.05 C988.50,312.70 988.96,312.12 989.14,311.72 C989.32,311.32 989.57,310.87 989.49,310.64 C989.41,310.41 989.05,310.38 988.65,310.36 C988.25,310.35 987.53,310.55 987.11,310.55 C986.69,310.55 986.29,310.39 986.13,310.36" fill="none" stroke="#777" stroke-width="0.95" stroke-linejoin="round" stroke-linecap="round" />
<path d="M979.55,330.91 C979.39,330.77 978.63,330.33 978.6,330.09 C978.57,329.85 978.99,329.67 979.37,329.48 C979.75,329.29 980.59,329.16 980.88,328.96 C981.17,328.76 981.29,328.54 981.12,328.28 C980.95,328.02 980.20,327.70 979.85,327.42 C979.50,327.14 978.99,326.85 979.0,326.62 C979.01,326.39 979.50,326.21 979.89,326.02 C980.28,325.83 981.11,325.69 981.37,325.49 C981.63,325.29 981.66,325.06 981.46,324.8 C981.26,324.54 980.49,324.21 980.15,323.93 C979.81,323.65 979.37,323.37 979.41,323.14 C979.45,322.91 980.00,322.75 980.41,322.56 C980.82,322.37 981.62,322.23 981.85,322.02 C982.08,321.81 981.81,321.43 981.8,321.31" fill="none" stroke="#444" stroke-width="1.1" stroke-linejoin="round" stroke-linecap="round" />
<path d="M972.04,310.11 C972.14,310.17 972.61,310.22 972.67,310.48 C972.73,310.74 972.50,311.26 972.41,311.66 C972.31,312.06 972.06,312.59 972.1,312.86 C972.14,313.13 972.35,313.27 972.66,313.31 C972.97,313.35 973.57,313.12 973.97,313.08 C974.37,313.04 974.84,312.93 975.04,313.06 C975.24,313.19 975.21,313.53 975.16,313.89 C975.11,314.25 974.79,314.84 974.73,315.21 C974.67,315.57 974.62,315.93 974.8,316.08 C974.98,316.23 975.45,316.14 975.84,316.1 C976.23,316.06 976.84,315.84 977.16,315.86 C977.48,315.88 977.72,315.99 977.78,316.25 C977.84,316.51 977.60,317.03 977.5,317.43 C977.40,317.83 977.15,318.36 977.2,318.63 C977.25,318.90 977.68,318.98 977.78,319.05" fill="none" stroke="#777" stroke-width="1.1" stroke-linejoin="round" stroke-linecap="round" />
<path d="M978.6,339.98 C978.43,339.83 977.91,339.35 977.58,339.07 C977.25,338.79 976.84,338.30 976.6,338.31 C976.36,338.32 976.24,338.73 976.12,339.11 C976.00,339.50 976.02,340.31 975.87,340.62 C975.72,340.93 975.52,341.07 975.24,340.96 C974.96,340.85 974.51,340.22 974.18,339.95 C973.85,339.68 973.48,339.29 973.26,339.36 C973.04,339.43 972.96,339.94 972.84,340.35 C972.73,340.76 972.73,341.54 972.57,341.8 C972.41,342.06 972.17,342.07 971.87,341.91 C971.57,341.75 970.97,341.01 970.79,340.83" fill="none" stroke="#888" stroke-width="0.95" stroke-linejoin="round" stroke-linecap="round" />
<path d="M946.9,329.18 C947.13,329.08 947.93,328.78 948.26,328.57 C948.59,328.36 948.89,328.15 948.86,327.91 C948.83,327.68 948.39,327.42 948.05,327.16 C947.71,326.90 947.06,326.62 946.84,326.37 C946.62,326.12 946.55,325.88 946.73,325.66 C946.91,325.44 947.52,325.25 947.9,325.04 C948.28,324.83 948.87,324.63 949.02,324.41 C949.17,324.19 949.06,323.95 948.82,323.7 C948.58,323.45 947.92,323.17 947.59,322.91 C947.26,322.65 946.86,322.39 946.85,322.16 C946.84,321.93 947.42,321.62 947.53,321.51" fill="none" stroke="#888" stroke-width="0.95" stroke-linejoin="round" stroke-linecap="round" />
<path d="M991.09,350.14 C991.27,350.21 991.71,350.44 992.15,350.56 C992.59,350.68 993.31,350.72 993.7,350.85 C994.09,350.98 994.44,351.13 994.47,351.36 C994.50,351.59 994.18,351.93 993.89,352.25 C993.60,352.57 992.99,352.99 992.71,353.31 C992.43,353.63 992.17,353.95 992.23,354.18 C992.29,354.41 992.68,354.53 993.08,354.66 C993.48,354.79 994.39,354.89 994.65,354.94" fill="none" stroke="#444" stroke-width="1.1" stroke-linejoin="round" stroke-linecap="round" />
<path d="M960.05,369.0 C959.93,369.14 959.32,369.60 959.36,369.83 C959.40,370.06 959.85,370.22 960.27,370.38 C960.69,370.54 961.50,370.64 961.87,370.81 C962.24,370.98 962.55,371.15 962.5,371.4 C962.45,371.64 961.96,371.98 961.59,372.28 C961.22,372.58 960.52,372.94 960.3,373.22 C960.07,373.50 960.02,373.74 960.24,373.94 C960.46,374.14 961.15,374.25 961.61,374.41 C962.07,374.57 962.78,374.68 963.01,374.87 C963.24,375.06 962.99,375.46 962.99,375.58" fill="none" stroke="#888" stroke-width="0.8" stroke-linejoin="round" stroke-linecap="round" />
<path d="M982.16,302.29 C982.05,302.24 981.84,301.95 981.48,301.98 C981.12,302.01 980.46,302.36 980.02,302.47 C979.58,302.58 979.07,302.77 978.85,302.66 C978.63,302.55 978.65,302.19 978.71,301.8 C978.77,301.41 979.12,300.72 979.21,300.3 C979.30,299.88 979.40,299.44 979.23,299.28 C979.06,299.12 978.62,299.23 978.2,299.33 C977.78,299.43 977.10,299.79 976.71,299.85 C976.32,299.92 976.00,299.74 975.86,299.72" fill="none" stroke="#555" stroke-width="0.95" stroke-linejoin="round" stroke-linecap="round" />
<path d="M972.85,296.99 C972.94,297.07 973.09,297.45 973.38,297.45 C973.67,297.45 974.20,297.12 974.59,296.98 C974.98,296.84 975.47,296.56 975.72,296.61 C975.98,296.66 976.08,296.92 976.12,297.26 C976.16,297.60 975.97,298.25 975.97,298.65 C975.97,299.05 975.93,299.49 976.11,299.64 C976.29,299.79 976.67,299.66 977.04,299.55 C977.41,299.44 977.98,299.06 978.33,298.98 C978.68,298.90 979.00,299.06 979.13,299.07" fill="none" stroke="#666" stroke-width="0.8" stroke-linejoin="round" stroke-linecap="round" />
<path d="M947.99,339.08 C947.95,339.26 947.89,339.77 947.75,340.19 C947.61,340.61 947.24,341.24 947.15,341.62 C947.06,342.00 947.03,342.34 947.23,342.47 C947.43,342.60 947.93,342.49 948.37,342.42 C948.81,342.35 949.49,342.09 949.88,342.07 C950.27,342.05 950.60,342.07 950.7,342.29 C950.80,342.51 950.61,342.98 950.47,343.4 C950.33,343.82 949.95,344.45 949.86,344.83 C949.77,345.21 949.73,345.55 949.93,345.68 C950.13,345.81 950.62,345.71 951.06,345.64 C951.50,345.57 952.19,345.30 952.58,345.28 C952.97,345.26 953.31,345.28 953.41,345.5 C953.51,345.72 953.33,346.18 953.19,346.6 C953.05,347.02 952.68,347.79 952.58,348.03" fill="none" stroke="#555" stroke-width="1.1" stroke-linejoin="round" stroke-linecap="round" />
<path d="M953.23,303.22 C953.08,303.22 952.70,303.30 952.32,303.21 C951.94,303.12 951.36,302.78 950.97,302.68 C950.58,302.58 950.18,302.46 949.99,302.59 C949.80,302.72 949.80,303.09 949.81,303.47 C949.82,303.86 950.04,304.50 950.07,304.9 C950.10,305.30 950.15,305.72 949.99,305.89 C949.83,306.06 949.47,306.00 949.1,305.91 C948.73,305.83 948.14,305.49 947.75,305.38 C947.36,305.27 946.95,305.14 946.75,305.27 C946.55,305.39 946.54,305.75 946.55,306.13 C946.56,306.51 946.79,307.14 946.82,307.55 C946.85,307.96 946.91,308.38 946.75,308.56 C946.59,308.74 946.25,308.69 945.88,308.61 C945.51,308.53 944.92,308.19 944.53,308.08 C944.13,307.97 943.68,307.97 943.51,307.95" fill="none" stroke="#888" stroke-width="0.95" stroke-linejoin="round" stroke-linecap="round" />
<path d="M980.63,312.28 C980.64,312.42 980.52,312.99 980.71,313.13 C980.90,313.27 981.37,313.18 981.76,313.15 C982.15,313.12 982.76,312.92 983.07,312.96 C983.38,313.00 983.59,313.13 983.63,313.4 C983.67,313.67 983.41,314.21 983.31,314.6 C983.21,314.99 982.97,315.50 983.03,315.75 C983.09,316.00 983.33,316.10 983.66,316.13 C983.99,316.16 984.61,315.94 985.0,315.92 C985.39,315.90 985.82,315.99 985.98,316.0" fill="none" stroke="#444" stroke-width="0.95" stroke-linejoin="round" stroke-linecap="round" />
<path d="M978.73,327.54 C978.79,327.39 978.90,326.97 979.1,326.64 C979.30,326.31 979.74,325.87 979.9,325.55 C980.06,325.23 980.21,324.91 980.09,324.71 C979.98,324.50 979.58,324.42 979.21,324.32 C978.84,324.22 978.21,324.23 977.86,324.12 C977.51,324.01 977.20,323.89 977.13,323.66 C977.06,323.44 977.27,323.10 977.46,322.77 C977.65,322.44 978.10,322.00 978.27,321.68 C978.44,321.36 978.60,321.04 978.49,320.83 C978.38,320.62 978.01,320.52 977.64,320.42 C977.27,320.32 976.64,320.33 976.29,320.22 C975.94,320.11 975.61,320.00 975.53,319.78 C975.45,319.56 975.64,319.23 975.83,318.9 C976.02,318.57 976.51,317.98 976.65,317.8" fill="none" stroke="#555" stroke-width="0.95" stroke-linejoin="round" stroke-linecap="round" />
<path d="M946.16,341.98 C945.95,342.12 945.22,342.53 944.89,342.8 C944.56,343.07 944.20,343.34 944.17,343.58 C944.13,343.82 944.37,344.03 944.68,344.23 C944.99,344.43 945.62,344.61 946.03,344.8 C946.44,345.00 946.96,345.18 947.14,345.4 C947.32,345.62 947.31,345.85 947.13,346.1 C946.95,346.35 946.43,346.64 946.06,346.91 C945.69,347.18 945.13,347.47 944.9,347.73 C944.67,347.99 944.55,348.23 944.68,348.45 C944.80,348.67 945.26,348.86 945.65,349.06 C946.04,349.26 946.69,349.43 947.04,349.63 C947.39,349.83 947.71,350.03 947.74,350.26 C947.77,350.49 947.50,350.76 947.2,351.02 C946.90,351.28 946.15,351.70 945.94,351.84" fill="none" stroke="#777" stroke-width="1.1" stroke-linejoin="round" stroke-linecap="round" />
<path d="M981.93,355.14 C982.03,355.25 982.26,355.60 982.54,355.83 C982.82,356.06 983.32,356.30 983.59,356.53 C983.86,356.76 984.12,357.00 984.14,357.23 C984.16,357.46 983.95,357.70 983.7,357.93 C983.46,358.16 982.96,358.39 982.67,358.63 C982.38,358.87 982.04,359.10 981.97,359.34 C981.90,359.57 982.02,359.81 982.23,360.04 C982.44,360.27 982.92,360.50 983.22,360.73 C983.52,360.96 983.92,361.31 984.06,361.43" fill="none" stroke="#666" stroke-width="1.1" stroke-linejoin="round" stroke-linecap="round" />
<path d="M949.08,366.7 C949.15,366.81 949.21,367.16 949.53,367.36 C949.85,367.56 950.58,367.72 950.97,367.91 C951.36,368.10 951.81,368.29 951.86,368.52 C951.91,368.75 951.60,369.02 951.28,369.29 C950.96,369.56 950.27,369.87 949.97,370.13 C949.67,370.39 949.39,370.65 949.47,370.88 C949.55,371.11 950.04,371.30 950.44,371.49 C950.84,371.68 951.62,371.95 951.86,372.04" fill="none" stroke="#444" stroke-width="0.8" stroke-linejoin="round" stroke-linecap="round" />
<path d="M946.83,348.64 C946.62,348.68 945.69,348.66 945.58,348.87 C945.48,349.08 945.90,349.52 946.2,349.9 C946.50,350.28 947.24,350.85 947.37,351.16 C947.50,351.47 947.33,351.64 946.96,351.74 C946.59,351.84 945.62,351.68 945.17,351.74 C944.71,351.80 944.24,351.85 944.23,352.1 C944.22,352.35 944.81,352.85 945.12,353.24 C945.43,353.63 946.08,354.16 946.12,354.43 C946.16,354.70 945.49,354.80 945.36,354.87" fill="none" stroke="#555" stroke-width="1.1" stroke-linejoin="round" stroke-linecap="round" />
<path d="M951.22,345.69 C951.16,345.85 951.01,346.30 950.87,346.62 C950.73,346.94 950.46,347.32 950.39,347.61 C950.32,347.90 950.31,348.15 950.46,348.34 C950.61,348.53 950.96,348.63 951.28,348.74 C951.60,348.85 952.08,348.88 952.37,349.01 C952.66,349.13 952.93,349.27 953.02,349.49 C953.11,349.71 953.01,350.00 952.9,350.31 C952.79,350.62 952.50,351.01 952.38,351.32 C952.26,351.63 952.11,351.95 952.17,352.18 C952.23,352.41 952.46,352.56 952.73,352.69 C953.00,352.82 953.48,352.86 953.81,352.97 C954.14,353.08 954.52,353.16 954.7,353.34 C954.88,353.52 954.92,353.75 954.87,354.03 C954.82,354.31 954.56,354.68 954.42,355.0 C954.28,355.32 954.08,355.79 954.01,355.95" fill="none" stroke="#666" stroke-width="0.8" stroke-linejoin="round" stroke-linecap="round" />
<polygon points="954.06,341.62 962.5,363.19 973.75,380.06 982.19,390.84 981.25,384.75 978.9,375.37 975.62,360.37 974.69,344.44 970.0,347.25" fill="#fff" stroke="#000" stroke-width="1.17" stroke-linejoin="round" />
<path d="M954.53,342.56 C955.86,346.00 959.30,356.94 962.5,363.19 C965.70,369.44 970.39,375.37 973.75,380.06 C977.11,384.75 981.17,389.44 982.65,391.31" fill="none" stroke="#000" stroke-width="1.69" stroke-linejoin="round" stroke-linecap="round" />
<path d="M974.69,344.44 C974.85,347.10 974.92,355.22 975.62,360.37 C976.32,365.52 977.93,371.23 978.9,375.37 C979.87,379.51 981.02,383.58 981.44,385.22" fill="none" stroke="#000" stroke-width="1.3" stroke-linejoin="round" stroke-linecap="round" />
<path d="M971.87,349.59 C972.34,351.86 973.72,358.11 974.69,363.19 C975.66,368.27 976.75,376.08 977.69,380.06 C978.63,384.04 979.87,385.92 980.31,387.09" fill="none" stroke="#000" stroke-width="0.78" stroke-linejoin="round" stroke-linecap="round" />
<path d="M953.12,337.41 C952.81,337.75 953.44,340.76 955.0,341.81 C956.56,342.86 960.62,342.94 962.5,343.69 C964.38,344.44 965.00,344.70 966.25,346.31 C967.50,347.92 968.99,351.85 970.0,353.34 C971.01,354.82 972.03,356.08 972.34,355.22 C972.65,354.36 971.48,349.96 971.87,348.19 C972.26,346.42 974.03,346.03 974.69,344.62 C975.35,343.21 975.81,341.34 975.81,339.75 C975.81,338.16 975.66,335.22 974.69,335.06 C973.72,334.90 972.03,337.79 970.0,338.81 C967.97,339.83 964.69,341.00 962.5,341.16 C960.31,341.32 958.43,340.38 956.87,339.75 C955.31,339.12 953.43,337.07 953.12,337.41Z" fill="#000" stroke="#000" stroke-width="0.5"/>
<circle cx="966.25" cy="351.0" r="1.3" fill="#999" stroke="#000" stroke-width="0.6"/>
<path d="M952.65,318.94 C952.57,320.97 952.68,325.03 952.84,327.37 C953.00,329.71 952.92,331.05 953.59,333.0 C954.26,334.95 955.38,337.68 956.87,339.09 C958.36,340.50 960.31,341.44 962.5,341.44 C964.69,341.44 968.05,340.65 970.0,339.09 C971.95,337.53 973.41,334.32 974.22,332.06 C975.03,329.80 975.07,328.31 974.87,325.5 C974.67,322.69 973.81,317.69 973.0,315.19 C972.19,312.69 971.59,311.70 970.0,310.5 C968.41,309.30 965.63,307.97 963.44,307.97 C961.25,307.97 958.56,309.30 956.87,310.5 C955.18,311.70 954.01,313.78 953.31,315.19 C952.61,316.60 952.73,316.91 952.65,318.94Z" fill="#fff" stroke="#000" stroke-width="1.15"/>
<path d="M953.87,319.69 C954.37,319.53 955.87,318.83 956.87,318.75 C957.87,318.67 959.37,319.14 959.87,319.22" fill="none" stroke="#000" stroke-width="1.04" stroke-linejoin="round" stroke-linecap="round" />
<path d="M965.12,318.75 C965.65,318.66 967.26,318.06 968.31,318.19 C969.36,318.31 970.88,319.28 971.4,319.5" fill="none" stroke="#000" stroke-width="1.04" stroke-linejoin="round" stroke-linecap="round" />
<ellipse cx="956.59" cy="322.5" rx="2.3" ry="1.4" fill="#222"/>
<ellipse cx="967.65" cy="321.94" rx="2.5" ry="1.4" fill="#222"/>
<path d="M960.81,323.44 C960.59,324.10 959.88,326.37 959.5,327.37 C959.12,328.37 958.29,328.86 958.56,329.44 C958.82,330.02 960.15,330.71 961.09,330.84 C962.03,330.96 963.67,330.30 964.19,330.19" fill="none" stroke="#000" stroke-width="1.04" stroke-linejoin="round" stroke-linecap="round" />
<path d="M957.62,333.56 C958.36,333.47 960.56,332.97 962.03,333.0 C963.50,333.03 965.71,333.62 966.44,333.75" fill="none" stroke="#000" stroke-width="1.17" stroke-linejoin="round" stroke-linecap="round" />
<path d="M959.5,334.87 C959.88,335.03 960.94,335.78 961.75,335.81 C962.56,335.84 963.93,335.19 964.37,335.06" fill="none" stroke="#444" stroke-width="1.04" stroke-linejoin="round" stroke-linecap="round" />
</g>
<line x1="378.5" y1="403.2" x2="1006.3" y2="403.2" stroke="#000" stroke-width="2"/>
<line x1="381.3" y1="404" x2="381.3" y2="409.5" stroke="#000" stroke-width="1"/>
<text x="381.3" y="426.6" font-size="15.2" font-weight="normal" font-style="normal" text-anchor="middle" fill="#111" stroke="#111" stroke-width="0.35" stroke-linejoin="round" textLength="29.2" lengthAdjust="spacingAndGlyphs">1300</text>
<line x1="458.5" y1="404" x2="458.5" y2="409.5" stroke="#000" stroke-width="1"/>
<text x="458.5" y="426.6" font-size="15.2" font-weight="normal" font-style="normal" text-anchor="middle" fill="#111" stroke="#111" stroke-width="0.35" stroke-linejoin="round" textLength="29.2" lengthAdjust="spacingAndGlyphs">1350</text>
<line x1="535.7" y1="404" x2="535.7" y2="409.5" stroke="#000" stroke-width="1"/>
<text x="535.7" y="426.6" font-size="15.2" font-weight="normal" font-style="normal" text-anchor="middle" fill="#111" stroke="#111" stroke-width="0.35" stroke-linejoin="round" textLength="29.2" lengthAdjust="spacingAndGlyphs">1400</text>
<line x1="613.0" y1="404" x2="613.0" y2="409.5" stroke="#000" stroke-width="1"/>
<text x="613.0" y="426.6" font-size="15.2" font-weight="normal" font-style="normal" text-anchor="middle" fill="#111" stroke="#111" stroke-width="0.35" stroke-linejoin="round" textLength="29.2" lengthAdjust="spacingAndGlyphs">1450</text>
<line x1="690.2" y1="404" x2="690.2" y2="409.5" stroke="#000" stroke-width="1"/>
<text x="690.2" y="426.6" font-size="15.2" font-weight="normal" font-style="normal" text-anchor="middle" fill="#111" stroke="#111" stroke-width="0.35" stroke-linejoin="round" textLength="29.2" lengthAdjust="spacingAndGlyphs">1500</text>
<line x1="767.4" y1="404" x2="767.4" y2="409.5" stroke="#000" stroke-width="1"/>
<text x="767.4" y="426.6" font-size="15.2" font-weight="normal" font-style="normal" text-anchor="middle" fill="#111" stroke="#111" stroke-width="0.35" stroke-linejoin="round" textLength="29.2" lengthAdjust="spacingAndGlyphs">1550</text>
<line x1="844.6" y1="404" x2="844.6" y2="409.5" stroke="#000" stroke-width="1"/>
<text x="844.6" y="426.6" font-size="15.2" font-weight="normal" font-style="normal" text-anchor="middle" fill="#111" stroke="#111" stroke-width="0.35" stroke-linejoin="round" textLength="29.2" lengthAdjust="spacingAndGlyphs">1600</text>
<line x1="921.8" y1="404" x2="921.8" y2="409.5" stroke="#000" stroke-width="1"/>
<text x="921.8" y="426.6" font-size="15.2" font-weight="normal" font-style="normal" text-anchor="middle" fill="#111" stroke="#111" stroke-width="0.35" stroke-linejoin="round" textLength="29.2" lengthAdjust="spacingAndGlyphs">1650</text>
<line x1="999.1" y1="404" x2="999.1" y2="409.5" stroke="#000" stroke-width="1"/>
<text x="999.1" y="426.6" font-size="15.2" font-weight="normal" font-style="normal" text-anchor="middle" fill="#111" stroke="#111" stroke-width="0.35" stroke-linejoin="round" textLength="29.2" lengthAdjust="spacingAndGlyphs">1700</text>
<text x="366.6" y="171.3" font-size="15.2" font-weight="normal" font-style="normal" text-anchor="end" fill="#111" stroke="#111" stroke-width="0.35" stroke-linejoin="round" textLength="34.6" lengthAdjust="spacingAndGlyphs">4,000</text>
<text x="366.6" y="250.4" font-size="15.2" font-weight="normal" font-style="normal" text-anchor="end" fill="#111" stroke="#111" stroke-width="0.35" stroke-linejoin="round" textLength="34.6" lengthAdjust="spacingAndGlyphs">2,000</text>
<text x="366.6" y="329.6" font-size="15.2" font-weight="normal" font-style="normal" text-anchor="end" fill="#111" stroke="#111" stroke-width="0.35" stroke-linejoin="round" textLength="34.6" lengthAdjust="spacingAndGlyphs">1,000</text>
<text x="368.1" y="407.3" font-size="15.2" font-weight="normal" font-style="normal" text-anchor="end" fill="#111" stroke="#111" stroke-width="0.35" stroke-linejoin="round" textLength="22.1" lengthAdjust="spacingAndGlyphs">500</text>
<text x="334.9" y="144.5" font-size="15" font-weight="normal" font-style="normal" text-anchor="start" fill="#111" stroke="#111" stroke-width="0.45" stroke-linejoin="round" textLength="8.2" lengthAdjust="spacingAndGlyphs">$</text>
<text x="333.3" y="99.3" font-size="20.6" font-weight="bold" font-style="normal" text-anchor="start" fill="#000" stroke="#000" stroke-width="0.2" stroke-linejoin="round" textLength="150" lengthAdjust="spacingAndGlyphs">GDP per person</text>
<line x1="335.2" y1="121.8" x2="363.2" y2="121.8" stroke="#000" stroke-width="3.2" stroke-linecap="round"/>
<text x="374.7" y="127.3" font-size="15" font-weight="normal" font-style="normal" text-anchor="start" fill="#111" stroke="#111" stroke-width="0.45" stroke-linejoin="round" textLength="101.8" lengthAdjust="spacingAndGlyphs">United Kingdom</text>
<line x1="492" y1="121.8" x2="520" y2="121.8" stroke="#808080" stroke-width="3.2" stroke-linecap="round"/>
<text x="533.3" y="127.3" font-size="15" font-weight="normal" font-style="normal" text-anchor="start" fill="#111" stroke="#111" stroke-width="0.45" stroke-linejoin="round" textLength="49.4" lengthAdjust="spacingAndGlyphs">Sweden</text>
<text x="627.8" y="460" font-size="15" font-weight="normal" font-style="normal" text-anchor="start" fill="#111" stroke="#111" stroke-width="0.45" stroke-linejoin="round" textLength="382.3" lengthAdjust="spacingAndGlyphs">©Johan Jarnestad/The Royal Swedish Academy of Sciences</text>
<text x="134" y="266.9" font-size="14.5" font-weight="normal" font-style="italic" text-anchor="start" fill="#111" stroke="#111" stroke-width="0.45" stroke-linejoin="round" textLength="91" lengthAdjust="spacingAndGlyphs">Heavy ploughs</text>
<text x="212.3" y="336.5" font-size="14.5" font-weight="normal" font-style="italic" text-anchor="start" fill="#111" stroke="#111" stroke-width="0.45" stroke-linejoin="round" textLength="62.5" lengthAdjust="spacingAndGlyphs">Windmills</text>
<text x="238.6" y="427.6" font-size="14.5" font-weight="normal" font-style="italic" text-anchor="start" fill="#111" stroke="#111" stroke-width="0.45" stroke-linejoin="round" textLength="76.5" lengthAdjust="spacingAndGlyphs">Middle Ages</text>
<text x="717.3" y="382.7" font-size="14.5" font-weight="normal" font-style="italic" text-anchor="start" fill="#111" stroke="#111" stroke-width="0.45" stroke-linejoin="round" textLength="88" lengthAdjust="spacingAndGlyphs">Printing press</text>
<text x="1006.2" y="323.2" font-size="14.5" font-weight="normal" font-style="italic" text-anchor="start" fill="#111" stroke="#111" stroke-width="0.45" stroke-linejoin="round" textLength="95" lengthAdjust="spacingAndGlyphs">Newton’s three</text>
<text x="1008" y="340.5" font-size="14.5" font-weight="normal" font-style="italic" text-anchor="start" fill="#111" stroke="#111" stroke-width="0.45" stroke-linejoin="round" textLength="91.3" lengthAdjust="spacingAndGlyphs">laws of motion</text>
<path d="M250.5,403.9 L266,396 L263.4,403.9 L266,412.4 Z" fill="#000"/>
<polyline points="263,403.7 275.1,403.7 278.2,395.2 282.1,410.6 285.6,403.1 296.5,403.1" fill="none" stroke="#000" stroke-width="1.7" stroke-linejoin="miter"/>
</svg>
</body></html>
